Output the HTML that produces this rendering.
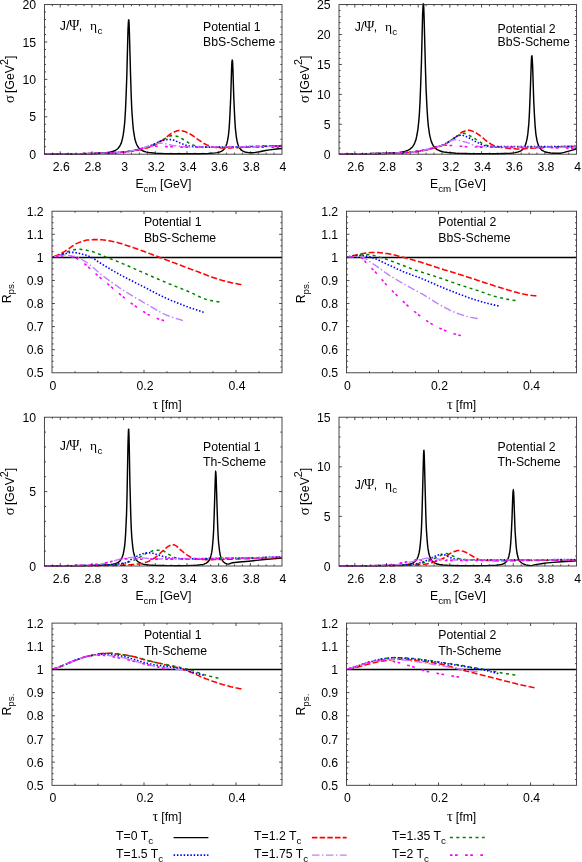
<!DOCTYPE html>
<html><head><meta charset="utf-8"><title>Spectral functions and correlator ratios</title>
<style>html,body{margin:0;padding:0;background:#fff}svg{display:block}text{font-family:"Liberation Sans", sans-serif;font-size:12.25px;fill:#000}.gr{font-family:"Liberation Serif", serif;font-size:13.5px}.sg{font-family:"Liberation Serif", serif;font-size:14.5px}.ps{font-family:"Liberation Serif", serif;font-size:14px}.sup{font-size:10.8px}.sub{font-size:9.8px}</style></head><body><div style="will-change:transform;width:582px;height:862px">
<svg width="582" height="862" viewBox="0 0 582 862">
<rect width="582" height="862" fill="#fff"/>
<defs>
<clipPath id="c1"><rect x="44.4" y="3.1" width="237.6" height="151.9"/></clipPath>
<clipPath id="c2"><rect x="339" y="3.1" width="237.6" height="151.9"/></clipPath>
<clipPath id="c3"><rect x="52" y="209.7" width="230" height="163.9"/></clipPath>
<clipPath id="c4"><rect x="346.5" y="209.7" width="230.1" height="163.9"/></clipPath>
<clipPath id="c5"><rect x="44.4" y="415.7" width="237.6" height="151.1"/></clipPath>
<clipPath id="c6"><rect x="339" y="415.7" width="237.6" height="151.1"/></clipPath>
<clipPath id="c7"><rect x="52" y="621.6" width="230" height="164.5"/></clipPath>
<clipPath id="c8"><rect x="346.5" y="621.6" width="230.1" height="164.5"/></clipPath>
</defs>
<path d="M44.4 154.1L71.6 153.9L86.5 153.6L92.9 153.5L97.9 153.3L102.1 153L105.2 152.8L108.1 152.4L110.6 152L112.5 151.5L114.4 150.8L115.4 150.3L116 150L117.3 149L117.9 148.5L118.5 147.8L119.5 146.5L120.4 144.9L121.1 143.4L121.4 142.5L122 140.5L122.6 137.9L123.3 134.4L123.9 129.9L124.6 123.7L124.9 119.8L125.5 109.7L126.1 95.6L126.8 76.4L128 29.5L128.4 22.1L128.7 19.4L129 22.1L129.3 29.5L130.6 76.4L131.2 95.6L131.8 109.7L132.2 115.2L132.8 123.7L133.4 129.9L134.1 134.5L134.7 137.9L135.3 140.5L135.6 141.6L136.3 143.5L136.6 144.2L137.2 145.5L137.9 146.6L138.5 147.5L139.1 148.2L140.1 149.2L141 149.9L142 150.4L143.2 151L144.5 151.5L145.8 151.9L147.4 152.2L149.3 152.6L151.2 152.8L155.6 153.2L161.9 153.5L170.2 153.7L180.3 153.8L192 153.8L201.5 153.7L208.2 153.5L211 153.3L213.3 153.1L215.2 152.9L217.1 152.6L218.6 152.3L219.9 151.9L221.2 151.3L222.1 150.8L223.1 150.1L223.7 149.5L224.7 148.4L225.3 147.4L225.6 146.8L226.2 145.3L226.9 143.4L227.5 140.7L227.8 139.1L228.5 134.7L228.8 131.9L229.1 128.5L229.4 124.4L229.7 119.4L230 113.4L230.7 97.7L231.6 68.9L231.9 62.2L232.3 59.7L232.6 62.2L232.9 68.9L233.8 97.7L234.5 113.4L234.8 119.4L235.1 124.4L235.4 128.5L236.1 134.8L236.4 137.1L237 140.7L237.3 142.2L238 144.4L238.6 146.1L239.2 147.4L239.5 147.9L240.2 148.8L241.1 149.9L242.1 150.6L242.7 151L243.4 151.4L244 151.6L244.9 152L246.5 152.3L248.4 152.6L250.6 152.7L252.9 152.7L255.7 152.4L259.5 151.8L265.5 150.5L269.6 149.9L276.3 149L279.1 148.7L282 148.5" fill="none" stroke="#000000" stroke-width="1.45" clip-path="url(#c1)" stroke-linejoin="miter" stroke-miterlimit="3"/>
<path d="M44.4 154.1L45.4 154L46.4 154L47.4 154L48.4 154L49.4 154L50.4 154L51.4 154L52.4 154L53.3 154L54.3 154L55.3 154L56.3 154L57.3 154L58.3 154L59.3 153.9L60.3 153.9L61.3 153.9L62.3 153.9L63.3 153.9L64.3 153.9L65.3 153.9L66.3 153.9L67.3 153.9L68.3 153.8L69.3 153.8L70.2 153.8L71.2 153.8L72.2 153.8L73.2 153.8L74.2 153.8L75.2 153.8L76.2 153.7L77.2 153.7L78.2 153.7L79.2 153.7L80.2 153.7L81.2 153.7L82.2 153.7L83.2 153.6L84.2 153.6L85.2 153.6L86.2 153.6L87.1 153.6L88.1 153.6L89.1 153.5L90.1 153.5L91.1 153.5L92.1 153.5L93.1 153.5L94.1 153.4L95.1 153.4L96.1 153.4L97.1 153.4L98.1 153.4L99.1 153.3L100.1 153.3L101.1 153.3L102.1 153.2L103.1 153.2L104 153.2L105 153.2L106 153.1L107 153.1L108 153.1L109 153L110 153L111 153L112 152.9L113 152.9L114 152.8L115 152.8L116 152.7L117 152.7L118 152.6L119 152.5L120 152.5L120.9 152.4L121.9 152.3L122.9 152.2L123.9 152.2L124.9 152.1L125.9 152L126.9 151.9L127.9 151.7L128.9 151.6L129.9 151.5L130.9 151.3L131.9 151.2L132.9 151L133.9 150.9L134.9 150.7L135.9 150.5L136.9 150.3L137.8 150.2L138.8 150L139.8 149.8L140.8 149.6L141.8 149.4L142.8 149.1L143.8 148.9L144.8 148.6L145.8 148.3L146.8 148L147.8 147.7L148.8 147.4L149.8 147.1L150.8 146.7L151.8 146.3L152.8 145.9L153.8 145.4L154.7 145L155.7 144.5L156.7 143.9L157.7 143.3L158.7 142.7L159.7 142.1L160.7 141.4L161.7 140.7L162.7 140L163.7 139.3L164.7 138.6L165.7 137.8L166.7 137L167.7 136.2L168.7 135.4L169.7 134.6L170.7 133.8L171.7 133.2L172.6 132.7L173.6 132.3L174.6 131.8L175.6 131.4L176.6 131.1L177.6 130.8L178.6 130.6L179.6 130.5L180.6 130.5L181.6 130.7L182.6 130.9L183.6 131.2L184.6 131.5L185.6 131.9L186.6 132.3L187.6 132.8L188.6 133.2L189.5 133.7L190.5 134.2L191.5 134.8L192.5 135.5L193.5 136.2L194.5 137L195.5 137.7L196.5 138.5L197.5 139.2L198.5 139.9L199.5 140.5L200.5 141.2L201.5 141.9L202.5 142.5L203.5 143.2L204.5 143.7L205.5 144.2L206.4 144.7L207.4 145.1L208.4 145.5L209.4 145.9L210.4 146.2L211.4 146.5L212.4 146.8L213.4 147L214.4 147.2L215.4 147.4L216.4 147.6L217.4 147.7L218.4 147.8L219.4 147.8L220.4 147.9L221.4 147.9L222.4 147.9L223.3 147.9L224.3 147.9L225.3 147.9L226.3 147.9L227.3 147.9L228.3 147.9L229.3 147.9L230.3 147.9L231.3 147.9L232.3 147.8L233.3 147.8L234.3 147.8L235.3 147.7L236.3 147.7L237.3 147.6L238.3 147.6L239.3 147.5L240.2 147.5L241.2 147.4L242.2 147.3L243.2 147.3L244.2 147.2L245.2 147.1L246.2 147.1L247.2 147L248.2 147L249.2 146.9L250.2 146.9L251.2 146.8L252.2 146.8L253.2 146.7L254.2 146.7L255.2 146.7L256.2 146.6L257.1 146.6L258.1 146.5L259.1 146.5L260.1 146.5L261.1 146.4L262.1 146.4L263.1 146.3L264.1 146.3L265.1 146.2L266.1 146.2L267.1 146.2L268.1 146.1L269.1 146.1L270.1 146L271.1 146L272.1 146L273.1 145.9L274 145.9L275 145.9L276 145.8L277 145.8L278 145.7L279 145.7L280 145.7L281 145.6L282 145.6" fill="none" stroke="#ff0000" stroke-width="1.55" stroke-dasharray="6 2.4" clip-path="url(#c1)" stroke-linejoin="round"/>
<path d="M44.4 154.1L45.4 154L46.4 154L47.4 154L48.4 154L49.4 154L50.4 154L51.4 154L52.4 154L53.3 154L54.3 154L55.3 154L56.3 154L57.3 154L58.3 154L59.3 154L60.3 153.9L61.3 153.9L62.3 153.9L63.3 153.9L64.3 153.9L65.3 153.9L66.3 153.9L67.3 153.9L68.3 153.9L69.3 153.8L70.2 153.8L71.2 153.8L72.2 153.8L73.2 153.8L74.2 153.8L75.2 153.8L76.2 153.7L77.2 153.7L78.2 153.7L79.2 153.7L80.2 153.7L81.2 153.7L82.2 153.7L83.2 153.6L84.2 153.6L85.2 153.6L86.2 153.6L87.1 153.6L88.1 153.6L89.1 153.5L90.1 153.5L91.1 153.5L92.1 153.5L93.1 153.4L94.1 153.4L95.1 153.4L96.1 153.4L97.1 153.3L98.1 153.3L99.1 153.3L100.1 153.3L101.1 153.2L102.1 153.2L103.1 153.2L104 153.1L105 153.1L106 153.1L107 153L108 153L109 153L110 152.9L111 152.9L112 152.8L113 152.8L114 152.7L115 152.6L116 152.6L117 152.5L118 152.4L119 152.4L120 152.3L120.9 152.2L121.9 152.1L122.9 152L123.9 151.9L124.9 151.8L125.9 151.7L126.9 151.6L127.9 151.4L128.9 151.3L129.9 151.1L130.9 151L131.9 150.8L132.9 150.6L133.9 150.4L134.9 150.3L135.9 150L136.9 149.8L137.8 149.6L138.8 149.4L139.8 149.2L140.8 148.9L141.8 148.6L142.8 148.3L143.8 148L144.8 147.6L145.8 147.3L146.8 146.9L147.8 146.6L148.8 146.2L149.8 145.9L150.8 145.5L151.8 145.1L152.8 144.8L153.8 144.4L154.7 144L155.7 143.5L156.7 143.1L157.7 142.5L158.7 142L159.7 141.5L160.7 140.9L161.7 140.4L162.7 139.9L163.7 139.4L164.7 138.9L165.7 138.3L166.7 137.7L167.7 137.2L168.7 136.6L169.7 136.2L170.7 135.8L171.7 135.7L172.6 135.7L173.6 135.7L174.6 135.8L175.6 136L176.6 136.2L177.6 136.4L178.6 136.7L179.6 137.2L180.6 137.8L181.6 138.5L182.6 139L183.6 139.6L184.6 140.2L185.6 140.8L186.6 141.5L187.6 142.1L188.6 142.8L189.5 143.3L190.5 143.9L191.5 144.3L192.5 144.7L193.5 145.1L194.5 145.4L195.5 145.7L196.5 146L197.5 146.2L198.5 146.4L199.5 146.6L200.5 146.7L201.5 146.9L202.5 147L203.5 147L204.5 147.1L205.5 147.1L206.4 147.1L207.4 147.2L208.4 147.2L209.4 147.2L210.4 147.2L211.4 147.2L212.4 147.2L213.4 147.2L214.4 147.2L215.4 147.2L216.4 147.2L217.4 147.2L218.4 147.2L219.4 147.2L220.4 147.2L221.4 147.2L222.4 147.2L223.3 147.1L224.3 147.1L225.3 147.1L226.3 147.1L227.3 147.1L228.3 147.1L229.3 147L230.3 147L231.3 147L232.3 147L233.3 146.9L234.3 146.9L235.3 146.9L236.3 146.9L237.3 146.9L238.3 146.8L239.3 146.8L240.2 146.8L241.2 146.8L242.2 146.7L243.2 146.7L244.2 146.7L245.2 146.7L246.2 146.7L247.2 146.6L248.2 146.6L249.2 146.6L250.2 146.6L251.2 146.6L252.2 146.5L253.2 146.5L254.2 146.5L255.2 146.5L256.2 146.5L257.1 146.4L258.1 146.4L259.1 146.4L260.1 146.4L261.1 146.4L262.1 146.4L263.1 146.3L264.1 146.3L265.1 146.3L266.1 146.3L267.1 146.3L268.1 146.2L269.1 146.2L270.1 146.2L271.1 146.2L272.1 146.2L273.1 146.1L274 146.1L275 146.1L276 146.1L277 146.1L278 146L279 146L280 146L281 146L282 146" fill="none" stroke="#008000" stroke-width="1.5" stroke-dasharray="3.0 3.4" clip-path="url(#c1)" stroke-linejoin="round"/>
<path d="M44.4 154.1L45.4 154L46.4 154L47.4 154L48.4 154L49.4 154L50.4 154L51.4 154L52.4 154L53.3 154L54.3 154L55.3 154L56.3 154L57.3 154L58.3 154L59.3 154L60.3 153.9L61.3 153.9L62.3 153.9L63.3 153.9L64.3 153.9L65.3 153.9L66.3 153.9L67.3 153.9L68.3 153.9L69.3 153.8L70.2 153.8L71.2 153.8L72.2 153.8L73.2 153.8L74.2 153.8L75.2 153.8L76.2 153.7L77.2 153.7L78.2 153.7L79.2 153.7L80.2 153.7L81.2 153.7L82.2 153.7L83.2 153.6L84.2 153.6L85.2 153.6L86.2 153.6L87.1 153.6L88.1 153.6L89.1 153.5L90.1 153.5L91.1 153.5L92.1 153.5L93.1 153.4L94.1 153.4L95.1 153.4L96.1 153.4L97.1 153.3L98.1 153.3L99.1 153.3L100.1 153.3L101.1 153.2L102.1 153.2L103.1 153.2L104 153.1L105 153.1L106 153.1L107 153L108 153L109 153L110 152.9L111 152.9L112 152.8L113 152.8L114 152.7L115 152.6L116 152.6L117 152.5L118 152.4L119 152.4L120 152.3L120.9 152.2L121.9 152.1L122.9 152L123.9 151.9L124.9 151.8L125.9 151.7L126.9 151.6L127.9 151.4L128.9 151.3L129.9 151.1L130.9 151L131.9 150.8L132.9 150.6L133.9 150.4L134.9 150.3L135.9 150L136.9 149.8L137.8 149.6L138.8 149.4L139.8 149.2L140.8 148.9L141.8 148.6L142.8 148.3L143.8 148L144.8 147.6L145.8 147.3L146.8 146.9L147.8 146.6L148.8 146.2L149.8 145.8L150.8 145.4L151.8 145L152.8 144.6L153.8 144.2L154.7 143.8L155.7 143.4L156.7 142.9L157.7 142.5L158.7 142L159.7 141.6L160.7 141.1L161.7 140.8L162.7 140.5L163.7 140.3L164.7 140L165.7 139.8L166.7 139.7L167.7 139.5L168.7 139.5L169.7 139.5L170.7 139.6L171.7 139.7L172.6 139.9L173.6 140.1L174.6 140.4L175.6 140.9L176.6 141.4L177.6 141.9L178.6 142.3L179.6 142.8L180.6 143.2L181.6 143.6L182.6 144L183.6 144.4L184.6 144.7L185.6 145.1L186.6 145.4L187.6 145.6L188.6 145.8L189.5 146L190.5 146.1L191.5 146.3L192.5 146.4L193.5 146.6L194.5 146.7L195.5 146.8L196.5 146.8L197.5 146.9L198.5 146.9L199.5 146.9L200.5 147L201.5 147L202.5 147L203.5 147.1L204.5 147.1L205.5 147.1L206.4 147.1L207.4 147.1L208.4 147.1L209.4 147.1L210.4 147.1L211.4 147.1L212.4 147.1L213.4 147.1L214.4 147.1L215.4 147.1L216.4 147L217.4 147L218.4 147L219.4 147L220.4 147L221.4 147L222.4 147L223.3 147L224.3 147L225.3 146.9L226.3 146.9L227.3 146.9L228.3 146.9L229.3 146.9L230.3 146.9L231.3 146.9L232.3 146.8L233.3 146.8L234.3 146.8L235.3 146.8L236.3 146.8L237.3 146.8L238.3 146.7L239.3 146.7L240.2 146.7L241.2 146.7L242.2 146.7L243.2 146.7L244.2 146.7L245.2 146.6L246.2 146.6L247.2 146.6L248.2 146.6L249.2 146.6L250.2 146.6L251.2 146.6L252.2 146.5L253.2 146.5L254.2 146.5L255.2 146.5L256.2 146.5L257.1 146.5L258.1 146.5L259.1 146.5L260.1 146.4L261.1 146.4L262.1 146.4L263.1 146.4L264.1 146.4L265.1 146.4L266.1 146.4L267.1 146.3L268.1 146.3L269.1 146.3L270.1 146.3L271.1 146.3L272.1 146.3L273.1 146.3L274 146.2L275 146.2L276 146.2L277 146.2L278 146.2L279 146.2L280 146.2L281 146.1L282 146.1" fill="none" stroke="#0000ff" stroke-width="1.6" stroke-dasharray="1.5 1.85" clip-path="url(#c1)" stroke-linejoin="round"/>
<path d="M44.4 154.1L45.4 154L46.4 154L47.4 154L48.4 154L49.4 154L50.4 154L51.4 154L52.4 154L53.3 154L54.3 154L55.3 154L56.3 154L57.3 154L58.3 154L59.3 154L60.3 153.9L61.3 153.9L62.3 153.9L63.3 153.9L64.3 153.9L65.3 153.9L66.3 153.9L67.3 153.9L68.3 153.9L69.3 153.8L70.2 153.8L71.2 153.8L72.2 153.8L73.2 153.8L74.2 153.8L75.2 153.8L76.2 153.7L77.2 153.7L78.2 153.7L79.2 153.7L80.2 153.7L81.2 153.7L82.2 153.7L83.2 153.6L84.2 153.6L85.2 153.6L86.2 153.6L87.1 153.6L88.1 153.6L89.1 153.5L90.1 153.5L91.1 153.5L92.1 153.5L93.1 153.4L94.1 153.4L95.1 153.4L96.1 153.4L97.1 153.3L98.1 153.3L99.1 153.3L100.1 153.3L101.1 153.2L102.1 153.2L103.1 153.2L104 153.1L105 153.1L106 153.1L107 153L108 153L109 153L110 152.9L111 152.9L112 152.8L113 152.8L114 152.7L115 152.6L116 152.6L117 152.5L118 152.4L119 152.4L120 152.3L120.9 152.2L121.9 152.1L122.9 152L123.9 151.9L124.9 151.8L125.9 151.7L126.9 151.6L127.9 151.4L128.9 151.3L129.9 151.1L130.9 151L131.9 150.8L132.9 150.6L133.9 150.4L134.9 150.3L135.9 150L136.9 149.8L137.8 149.6L138.8 149.4L139.8 149.2L140.8 148.9L141.8 148.6L142.8 148.3L143.8 148L144.8 147.6L145.8 147.3L146.8 146.9L147.8 146.6L148.8 146.2L149.8 145.8L150.8 145.4L151.8 145L152.8 144.6L153.8 144.2L154.7 144L155.7 143.8L156.7 143.6L157.7 143.5L158.7 143.3L159.7 143.2L160.7 143.2L161.7 143.2L162.7 143.3L163.7 143.5L164.7 143.7L165.7 143.9L166.7 144.1L167.7 144.3L168.7 144.5L169.7 144.7L170.7 145L171.7 145.2L172.6 145.4L173.6 145.6L174.6 145.7L175.6 145.8L176.6 145.9L177.6 146L178.6 146.1L179.6 146.2L180.6 146.3L181.6 146.4L182.6 146.4L183.6 146.5L184.6 146.6L185.6 146.6L186.6 146.7L187.6 146.7L188.6 146.8L189.5 146.9L190.5 146.9L191.5 147L192.5 147L193.5 147L194.5 147L195.5 147L196.5 147L197.5 147L198.5 147L199.5 147L200.5 147L201.5 147L202.5 147L203.5 147L204.5 147L205.5 147L206.4 147L207.4 147L208.4 147L209.4 147L210.4 147L211.4 147L212.4 147L213.4 147L214.4 147L215.4 147L216.4 147L217.4 147L218.4 146.9L219.4 146.9L220.4 146.9L221.4 146.9L222.4 146.9L223.3 146.9L224.3 146.9L225.3 146.9L226.3 146.9L227.3 146.9L228.3 146.9L229.3 146.9L230.3 146.9L231.3 146.9L232.3 146.9L233.3 146.9L234.3 146.8L235.3 146.8L236.3 146.8L237.3 146.8L238.3 146.8L239.3 146.8L240.2 146.8L241.2 146.8L242.2 146.8L243.2 146.8L244.2 146.8L245.2 146.8L246.2 146.8L247.2 146.7L248.2 146.7L249.2 146.7L250.2 146.7L251.2 146.7L252.2 146.7L253.2 146.7L254.2 146.7L255.2 146.7L256.2 146.7L257.1 146.7L258.1 146.6L259.1 146.6L260.1 146.6L261.1 146.6L262.1 146.6L263.1 146.6L264.1 146.6L265.1 146.6L266.1 146.6L267.1 146.5L268.1 146.5L269.1 146.5L270.1 146.5L271.1 146.5L272.1 146.5L273.1 146.5L274 146.5L275 146.4L276 146.4L277 146.4L278 146.4L279 146.4L280 146.4L281 146.4L282 146.3" fill="none" stroke="#c080ff" stroke-width="1.45" stroke-dasharray="7.6 2.4 1.5 2.5" clip-path="url(#c1)" stroke-linejoin="round"/>
<path d="M44.4 154.1L45.4 154L46.4 154L47.4 154L48.4 154L49.4 154L50.4 154L51.4 154L52.4 154L53.3 154L54.3 154L55.3 154L56.3 154L57.3 154L58.3 154L59.3 154L60.3 153.9L61.3 153.9L62.3 153.9L63.3 153.9L64.3 153.9L65.3 153.9L66.3 153.9L67.3 153.9L68.3 153.9L69.3 153.8L70.2 153.8L71.2 153.8L72.2 153.8L73.2 153.8L74.2 153.8L75.2 153.8L76.2 153.7L77.2 153.7L78.2 153.7L79.2 153.7L80.2 153.7L81.2 153.7L82.2 153.7L83.2 153.6L84.2 153.6L85.2 153.6L86.2 153.6L87.1 153.6L88.1 153.6L89.1 153.5L90.1 153.5L91.1 153.5L92.1 153.5L93.1 153.4L94.1 153.4L95.1 153.4L96.1 153.4L97.1 153.3L98.1 153.3L99.1 153.3L100.1 153.3L101.1 153.2L102.1 153.2L103.1 153.2L104 153.1L105 153.1L106 153.1L107 153L108 153L109 153L110 152.9L111 152.9L112 152.8L113 152.8L114 152.7L115 152.6L116 152.6L117 152.5L118 152.4L119 152.4L120 152.3L120.9 152.2L121.9 152.1L122.9 152L123.9 151.9L124.9 151.8L125.9 151.7L126.9 151.6L127.9 151.5L128.9 151.3L129.9 151.2L130.9 151L131.9 150.8L132.9 150.7L133.9 150.5L134.9 150.3L135.9 150.1L136.9 149.9L137.8 149.6L138.8 149.4L139.8 149.2L140.8 148.8L141.8 148.4L142.8 148L143.8 147.6L144.8 147.2L145.8 146.9L146.8 146.7L147.8 146.4L148.8 146.2L149.8 146L150.8 146L151.8 146L152.8 146L153.8 146.1L154.7 146.1L155.7 146.1L156.7 146.2L157.7 146.2L158.7 146.3L159.7 146.3L160.7 146.4L161.7 146.4L162.7 146.5L163.7 146.5L164.7 146.6L165.7 146.6L166.7 146.6L167.7 146.7L168.7 146.7L169.7 146.7L170.7 146.8L171.7 146.8L172.6 146.8L173.6 146.8L174.6 146.9L175.6 146.9L176.6 147L177.6 147L178.6 147L179.6 147.1L180.6 147.1L181.6 147.1L182.6 147.2L183.6 147.2L184.6 147.2L185.6 147.2L186.6 147.2L187.6 147.2L188.6 147.2L189.5 147.2L190.5 147.2L191.5 147.2L192.5 147.2L193.5 147.2L194.5 147.2L195.5 147.2L196.5 147.2L197.5 147.2L198.5 147.2L199.5 147.2L200.5 147.2L201.5 147.2L202.5 147.2L203.5 147.2L204.5 147.2L205.5 147.2L206.4 147.2L207.4 147.2L208.4 147.2L209.4 147.2L210.4 147.2L211.4 147.2L212.4 147.2L213.4 147.2L214.4 147.2L215.4 147.2L216.4 147.2L217.4 147.2L218.4 147.2L219.4 147.2L220.4 147.2L221.4 147.2L222.4 147.2L223.3 147.2L224.3 147.2L225.3 147.2L226.3 147.2L227.3 147.2L228.3 147.2L229.3 147.2L230.3 147.2L231.3 147.2L232.3 147.2L233.3 147.2L234.3 147.2L235.3 147.2L236.3 147.2L237.3 147.2L238.3 147.2L239.3 147.2L240.2 147.2L241.2 147.2L242.2 147.2L243.2 147.2L244.2 147.2L245.2 147.2L246.2 147.2L247.2 147.2L248.2 147.2L249.2 147.2L250.2 147.2L251.2 147.2L252.2 147.2L253.2 147.2L254.2 147.2L255.2 147.2L256.2 147.2L257.1 147.2L258.1 147.2L259.1 147.2L260.1 147.2L261.1 147.2L262.1 147.2L263.1 147.2L264.1 147.2L265.1 147.2L266.1 147.2L267.1 147.2L268.1 147.2L269.1 147.2L270.1 147.2L271.1 147.2L272.1 147.2L273.1 147.2L274 147.1L275 147.1L276 147.1L277 147.1L278 147.1L279 147.1L280 147.1L281 147.1L282 147.1" fill="none" stroke="#ff00ff" stroke-width="1.6" stroke-dasharray="2.7 2.4 2.7 7.4" clip-path="url(#c1)" stroke-linejoin="round"/>
<path d="M339 154.1L364.3 153.8L379.6 153.5L386.2 153.3L391.6 153L395.7 152.7L399.2 152.4L402 152L404.6 151.4L406.8 150.7L407.7 150.4L408.7 149.9L409.6 149.4L410.3 148.9L411.5 147.8L412.2 147.2L412.8 146.4L413.8 144.9L414.7 143L415.3 141.3L415.7 140.4L416.3 138.1L416.6 136.7L417.2 133.5L417.9 129.3L418.5 123.8L419.2 116.4L419.5 111.8L420.1 100.1L420.7 84.3L421.4 63.5L422.6 14.9L423 7L423.3 3.4L423.3 3.3L423.6 4.9L423.9 11.3L424.2 21.3L425.5 70.3L426.1 89.6L426.8 104L427.1 109.7L427.7 118.9L428.3 125.6L429 130.7L429.6 134.6L429.9 136.2L430.6 138.9L430.9 140L431.5 141.9L432.5 144.1L433.1 145.3L433.7 146.3L434.4 147.1L435.3 148.1L436.3 148.9L437.2 149.6L438.5 150.2L439.7 150.8L441 151.2L442.6 151.7L444.2 152L446.1 152.3L448.3 152.6L450.5 152.8L455.9 153.2L463.2 153.5L472.1 153.7L484.7 153.8L496.1 153.7L504.7 153.5L507.9 153.4L510.7 153.2L513.2 152.9L515.1 152.6L516.7 152.3L518.3 151.9L519.6 151.4L520.8 150.8L521.8 150.1L522.7 149.3L523.7 148.2L524.3 147.3L524.6 146.7L525.3 145.3L525.9 143.6L526.5 141.2L527.2 138.1L527.8 133.9L528.1 131.1L528.8 123.9L529.4 113.6L530 99.1L531.3 62.3L531.6 56.7L531.9 55.3L531.9 55.3L532.2 58.5L532.6 65.4L533.8 102.4L534.5 116L535.1 125.6L535.7 132.3L536 134.8L536.7 138.8L537 140.4L537.6 142.9L538.3 144.9L538.9 146.3L539.2 146.9L539.9 148L540.8 149.1L541.4 149.8L542.1 150.3L542.7 150.7L543.7 151.2L544.6 151.6L545.6 152L547.8 152.5L550.6 153L553.8 153.3L556.3 153.3L559.2 153.3L560.4 153.2L562 152.9L564.2 152.4L570.6 150.6L573.4 149.8L576.6 148.7" fill="none" stroke="#000000" stroke-width="1.45" clip-path="url(#c2)" stroke-linejoin="miter" stroke-miterlimit="3"/>
<path d="M339 154L340 154L341 154L342 154L343 154L344 154L345 154L346 154L347 154L347.9 154L348.9 154L349.9 154L350.9 154L351.9 154L352.9 153.9L353.9 153.9L354.9 153.9L355.9 153.9L356.9 153.9L357.9 153.9L358.9 153.9L359.9 153.9L360.9 153.9L361.9 153.8L362.9 153.8L363.9 153.8L364.8 153.8L365.8 153.8L366.8 153.8L367.8 153.8L368.8 153.7L369.8 153.7L370.8 153.7L371.8 153.7L372.8 153.7L373.8 153.7L374.8 153.7L375.8 153.6L376.8 153.6L377.8 153.6L378.8 153.6L379.8 153.6L380.8 153.5L381.7 153.5L382.7 153.5L383.7 153.5L384.7 153.5L385.7 153.4L386.7 153.4L387.7 153.4L388.7 153.4L389.7 153.3L390.7 153.3L391.7 153.3L392.7 153.2L393.7 153.2L394.7 153.2L395.7 153.1L396.7 153.1L397.7 153.1L398.6 153L399.6 153L400.6 153L401.6 152.9L402.6 152.9L403.6 152.8L404.6 152.8L405.6 152.7L406.6 152.6L407.6 152.6L408.6 152.5L409.6 152.4L410.6 152.3L411.6 152.2L412.6 152.1L413.6 152L414.6 151.9L415.5 151.8L416.5 151.7L417.5 151.6L418.5 151.5L419.5 151.3L420.5 151.2L421.5 151L422.5 150.8L423.5 150.6L424.5 150.4L425.5 150.2L426.5 149.9L427.5 149.7L428.5 149.5L429.5 149.3L430.5 149L431.5 148.8L432.4 148.5L433.4 148.2L434.4 148L435.4 147.7L436.4 147.4L437.4 147.1L438.4 146.8L439.4 146.5L440.4 146.2L441.4 145.8L442.4 145.4L443.4 145L444.4 144.5L445.4 144L446.4 143.4L447.4 142.8L448.4 142.2L449.3 141.5L450.3 140.9L451.3 140.2L452.3 139.6L453.3 138.9L454.3 138.2L455.3 137.5L456.3 136.7L457.3 136L458.3 135.3L459.3 134.4L460.3 133.6L461.3 132.7L462.3 132L463.3 131.5L464.3 131.2L465.3 130.9L466.3 130.6L467.2 130.4L468.2 130.3L469.2 130.3L470.2 130.4L471.2 130.7L472.2 131.1L473.2 131.5L474.2 132L475.2 132.5L476.2 133L477.2 133.6L478.2 134.3L479.2 135L480.2 135.8L481.2 136.6L482.2 137.4L483.2 138.1L484.1 139L485.1 139.8L486.1 140.7L487.1 141.5L488.1 142.2L489.1 142.9L490.1 143.5L491.1 144.1L492.1 144.6L493.1 145.2L494.1 145.6L495.1 146L496.1 146.3L497.1 146.6L498.1 146.8L499.1 147L500.1 147.2L501 147.4L502 147.5L503 147.7L504 147.8L505 148L506 148.1L507 148.2L508 148.3L509 148.4L510 148.5L511 148.6L512 148.7L513 148.7L514 148.8L515 148.8L516 148.9L517 148.9L517.9 148.9L518.9 148.9L519.9 148.9L520.9 148.9L521.9 148.8L522.9 148.8L523.9 148.7L524.9 148.6L525.9 148.6L526.9 148.5L527.9 148.4L528.9 148.3L529.9 148.3L530.9 148.2L531.9 148.1L532.9 148.1L533.9 148L534.8 147.9L535.8 147.9L536.8 147.8L537.8 147.7L538.8 147.7L539.8 147.6L540.8 147.5L541.8 147.5L542.8 147.4L543.8 147.4L544.8 147.3L545.8 147.3L546.8 147.2L547.8 147.2L548.8 147.2L549.8 147.1L550.8 147.1L551.7 147L552.7 147L553.7 147L554.7 146.9L555.7 146.9L556.7 146.9L557.7 146.8L558.7 146.8L559.7 146.8L560.7 146.7L561.7 146.7L562.7 146.7L563.7 146.6L564.7 146.6L565.7 146.6L566.7 146.6L567.7 146.5L568.6 146.5L569.6 146.5L570.6 146.5L571.6 146.5L572.6 146.5L573.6 146.4L574.6 146.4L575.6 146.4L576.6 146.4" fill="none" stroke="#ff0000" stroke-width="1.55" stroke-dasharray="6 2.4" clip-path="url(#c2)" stroke-linejoin="round"/>
<path d="M339 154L340 154L341 154L342 154L343 154L344 154L345 154L346 154L347 154L347.9 154L348.9 154L349.9 154L350.9 153.9L351.9 153.9L352.9 153.9L353.9 153.9L354.9 153.9L355.9 153.9L356.9 153.9L357.9 153.9L358.9 153.8L359.9 153.8L360.9 153.8L361.9 153.8L362.9 153.8L363.9 153.8L364.8 153.8L365.8 153.7L366.8 153.7L367.8 153.7L368.8 153.7L369.8 153.7L370.8 153.7L371.8 153.6L372.8 153.6L373.8 153.6L374.8 153.6L375.8 153.6L376.8 153.5L377.8 153.5L378.8 153.5L379.8 153.5L380.8 153.5L381.7 153.4L382.7 153.4L383.7 153.4L384.7 153.4L385.7 153.3L386.7 153.3L387.7 153.3L388.7 153.2L389.7 153.2L390.7 153.2L391.7 153.1L392.7 153.1L393.7 153.1L394.7 153L395.7 153L396.7 153L397.7 152.9L398.6 152.9L399.6 152.8L400.6 152.8L401.6 152.7L402.6 152.7L403.6 152.6L404.6 152.6L405.6 152.5L406.6 152.4L407.6 152.4L408.6 152.3L409.6 152.2L410.6 152.1L411.6 152L412.6 151.9L413.6 151.8L414.6 151.7L415.5 151.5L416.5 151.4L417.5 151.3L418.5 151.2L419.5 151L420.5 150.8L421.5 150.6L422.5 150.4L423.5 150.2L424.5 150L425.5 149.8L426.5 149.6L427.5 149.3L428.5 149.1L429.5 148.8L430.5 148.6L431.5 148.3L432.4 148.1L433.4 147.8L434.4 147.5L435.4 147.3L436.4 147L437.4 146.7L438.4 146.5L439.4 146.2L440.4 145.8L441.4 145.5L442.4 145.1L443.4 144.7L444.4 144.2L445.4 143.7L446.4 143.1L447.4 142.6L448.4 142L449.3 141.3L450.3 140.7L451.3 140.1L452.3 139.4L453.3 138.7L454.3 137.9L455.3 137.2L456.3 136.5L457.3 136L458.3 135.4L459.3 134.9L460.3 134.3L461.3 133.8L462.3 133.5L463.3 133.3L464.3 133.3L465.3 133.7L466.3 134.1L467.2 134.5L468.2 134.9L469.2 135.4L470.2 136L471.2 136.5L472.2 137L473.2 137.6L474.2 138.2L475.2 138.8L476.2 139.5L477.2 140.2L478.2 140.9L479.2 141.5L480.2 142.2L481.2 142.9L482.2 143.5L483.2 144.1L484.1 144.6L485.1 145L486.1 145.3L487.1 145.5L488.1 145.8L489.1 146L490.1 146.2L491.1 146.3L492.1 146.4L493.1 146.5L494.1 146.6L495.1 146.7L496.1 146.8L497.1 146.9L498.1 147L499.1 147L500.1 147L501 147L502 147L503 147L504 147L505 147L506 147L507 147L508 147L509 147L510 147L511 147L512 147L513 147L514 147L515 147L516 147L517 147L517.9 147L518.9 147L519.9 147L520.9 147L521.9 147L522.9 147L523.9 147L524.9 147L525.9 147L526.9 146.9L527.9 146.9L528.9 146.9L529.9 146.9L530.9 146.9L531.9 146.9L532.9 146.9L533.9 146.9L534.8 146.9L535.8 146.9L536.8 146.9L537.8 146.9L538.8 146.9L539.8 146.9L540.8 146.9L541.8 146.9L542.8 146.9L543.8 146.9L544.8 146.8L545.8 146.8L546.8 146.8L547.8 146.8L548.8 146.8L549.8 146.8L550.8 146.8L551.7 146.8L552.7 146.8L553.7 146.8L554.7 146.7L555.7 146.7L556.7 146.7L557.7 146.7L558.7 146.7L559.7 146.7L560.7 146.7L561.7 146.7L562.7 146.6L563.7 146.6L564.7 146.6L565.7 146.6L566.7 146.6L567.7 146.6L568.6 146.5L569.6 146.5L570.6 146.5L571.6 146.5L572.6 146.5L573.6 146.5L574.6 146.5L575.6 146.4L576.6 146.4" fill="none" stroke="#008000" stroke-width="1.5" stroke-dasharray="3.0 3.4" clip-path="url(#c2)" stroke-linejoin="round"/>
<path d="M339 154L340 154L341 154L342 154L343 154L344 154L345 154L346 154L347 154L347.9 154L348.9 154L349.9 154L350.9 153.9L351.9 153.9L352.9 153.9L353.9 153.9L354.9 153.9L355.9 153.9L356.9 153.9L357.9 153.9L358.9 153.8L359.9 153.8L360.9 153.8L361.9 153.8L362.9 153.8L363.9 153.8L364.8 153.8L365.8 153.7L366.8 153.7L367.8 153.7L368.8 153.7L369.8 153.7L370.8 153.7L371.8 153.6L372.8 153.6L373.8 153.6L374.8 153.6L375.8 153.6L376.8 153.5L377.8 153.5L378.8 153.5L379.8 153.5L380.8 153.5L381.7 153.4L382.7 153.4L383.7 153.4L384.7 153.4L385.7 153.3L386.7 153.3L387.7 153.3L388.7 153.2L389.7 153.2L390.7 153.2L391.7 153.1L392.7 153.1L393.7 153.1L394.7 153L395.7 153L396.7 153L397.7 152.9L398.6 152.9L399.6 152.8L400.6 152.8L401.6 152.7L402.6 152.7L403.6 152.6L404.6 152.6L405.6 152.5L406.6 152.4L407.6 152.4L408.6 152.3L409.6 152.2L410.6 152.1L411.6 152L412.6 151.9L413.6 151.8L414.6 151.7L415.5 151.5L416.5 151.4L417.5 151.3L418.5 151.2L419.5 151L420.5 150.8L421.5 150.6L422.5 150.4L423.5 150.2L424.5 150L425.5 149.8L426.5 149.6L427.5 149.3L428.5 149.1L429.5 148.8L430.5 148.6L431.5 148.3L432.4 148.1L433.4 147.8L434.4 147.5L435.4 147.3L436.4 147L437.4 146.7L438.4 146.5L439.4 146.2L440.4 145.8L441.4 145.5L442.4 145.1L443.4 144.7L444.4 144.2L445.4 143.7L446.4 143.1L447.4 142.5L448.4 141.9L449.3 141.3L450.3 140.7L451.3 140.1L452.3 139.4L453.3 138.6L454.3 137.9L455.3 137.1L456.3 136.6L457.3 136.1L458.3 135.8L459.3 135.4L460.3 135.2L461.3 135.1L462.3 135.2L463.3 135.5L464.3 135.8L465.3 136.2L466.3 136.6L467.2 137L468.2 137.5L469.2 138L470.2 138.5L471.2 139.1L472.2 139.6L473.2 140.2L474.2 140.8L475.2 141.4L476.2 141.9L477.2 142.4L478.2 142.9L479.2 143.4L480.2 143.9L481.2 144.4L482.2 144.8L483.2 145.2L484.1 145.5L485.1 145.7L486.1 145.9L487.1 146L488.1 146.1L489.1 146.2L490.1 146.3L491.1 146.4L492.1 146.4L493.1 146.4L494.1 146.5L495.1 146.5L496.1 146.5L497.1 146.5L498.1 146.5L499.1 146.5L500.1 146.5L501 146.5L502 146.5L503 146.5L504 146.5L505 146.5L506 146.5L507 146.5L508 146.5L509 146.5L510 146.5L511 146.5L512 146.5L513 146.5L514 146.5L515 146.5L516 146.5L517 146.5L517.9 146.5L518.9 146.5L519.9 146.5L520.9 146.5L521.9 146.5L522.9 146.5L523.9 146.5L524.9 146.5L525.9 146.5L526.9 146.5L527.9 146.5L528.9 146.5L529.9 146.5L530.9 146.5L531.9 146.5L532.9 146.5L533.9 146.5L534.8 146.5L535.8 146.5L536.8 146.5L537.8 146.5L538.8 146.5L539.8 146.5L540.8 146.5L541.8 146.5L542.8 146.5L543.8 146.5L544.8 146.5L545.8 146.5L546.8 146.5L547.8 146.5L548.8 146.5L549.8 146.5L550.8 146.5L551.7 146.5L552.7 146.5L553.7 146.5L554.7 146.5L555.7 146.5L556.7 146.5L557.7 146.5L558.7 146.5L559.7 146.5L560.7 146.5L561.7 146.5L562.7 146.5L563.7 146.5L564.7 146.5L565.7 146.5L566.7 146.5L567.7 146.5L568.6 146.5L569.6 146.5L570.6 146.4L571.6 146.4L572.6 146.4L573.6 146.4L574.6 146.4L575.6 146.4L576.6 146.4" fill="none" stroke="#0000ff" stroke-width="1.6" stroke-dasharray="1.5 1.85" clip-path="url(#c2)" stroke-linejoin="round"/>
<path d="M339 154L340 154L341 154L342 154L343 154L344 154L345 154L346 154L347 154L347.9 154L348.9 154L349.9 154L350.9 153.9L351.9 153.9L352.9 153.9L353.9 153.9L354.9 153.9L355.9 153.9L356.9 153.9L357.9 153.9L358.9 153.8L359.9 153.8L360.9 153.8L361.9 153.8L362.9 153.8L363.9 153.8L364.8 153.8L365.8 153.7L366.8 153.7L367.8 153.7L368.8 153.7L369.8 153.7L370.8 153.7L371.8 153.6L372.8 153.6L373.8 153.6L374.8 153.6L375.8 153.6L376.8 153.5L377.8 153.5L378.8 153.5L379.8 153.5L380.8 153.5L381.7 153.4L382.7 153.4L383.7 153.4L384.7 153.4L385.7 153.3L386.7 153.3L387.7 153.3L388.7 153.2L389.7 153.2L390.7 153.2L391.7 153.1L392.7 153.1L393.7 153.1L394.7 153L395.7 153L396.7 153L397.7 152.9L398.6 152.9L399.6 152.8L400.6 152.8L401.6 152.7L402.6 152.7L403.6 152.6L404.6 152.6L405.6 152.5L406.6 152.4L407.6 152.4L408.6 152.3L409.6 152.2L410.6 152.1L411.6 152L412.6 151.9L413.6 151.8L414.6 151.7L415.5 151.5L416.5 151.4L417.5 151.3L418.5 151.2L419.5 151L420.5 150.8L421.5 150.6L422.5 150.4L423.5 150.2L424.5 150L425.5 149.8L426.5 149.6L427.5 149.3L428.5 149.1L429.5 148.8L430.5 148.6L431.5 148.3L432.4 148.1L433.4 147.8L434.4 147.5L435.4 147.3L436.4 147L437.4 146.7L438.4 146.4L439.4 146.1L440.4 145.8L441.4 145.5L442.4 145.1L443.4 144.6L444.4 144.1L445.4 143.5L446.4 142.8L447.4 142.2L448.4 141.6L449.3 141.1L450.3 140.7L451.3 140.5L452.3 140.2L453.3 140L454.3 139.8L455.3 139.7L456.3 139.6L457.3 139.6L458.3 139.9L459.3 140.3L460.3 140.7L461.3 141L462.3 141.3L463.3 141.6L464.3 141.8L465.3 142.1L466.3 142.3L467.2 142.6L468.2 142.9L469.2 143.2L470.2 143.7L471.2 144.1L472.2 144.6L473.2 145L474.2 145.3L475.2 145.6L476.2 145.9L477.2 146.1L478.2 146.3L479.2 146.5L480.2 146.6L481.2 146.7L482.2 146.8L483.2 146.9L484.1 147L485.1 147L486.1 147.1L487.1 147.1L488.1 147.1L489.1 147.2L490.1 147.2L491.1 147.2L492.1 147.3L493.1 147.3L494.1 147.3L495.1 147.3L496.1 147.3L497.1 147.3L498.1 147.3L499.1 147.3L500.1 147.3L501 147.3L502 147.3L503 147.3L504 147.3L505 147.3L506 147.3L507 147.3L508 147.3L509 147.3L510 147.3L511 147.3L512 147.3L513 147.3L514 147.3L515 147.3L516 147.3L517 147.2L517.9 147.2L518.9 147.2L519.9 147.2L520.9 147.2L521.9 147.2L522.9 147.2L523.9 147.2L524.9 147.2L525.9 147.2L526.9 147.2L527.9 147.2L528.9 147.2L529.9 147.2L530.9 147.2L531.9 147.2L532.9 147.2L533.9 147.2L534.8 147.1L535.8 147.1L536.8 147.1L537.8 147.1L538.8 147.1L539.8 147.1L540.8 147.1L541.8 147.1L542.8 147.1L543.8 147.1L544.8 147.1L545.8 147.1L546.8 147.1L547.8 147.1L548.8 147.1L549.8 147.1L550.8 147.1L551.7 147.1L552.7 147.1L553.7 147.1L554.7 147.1L555.7 147.1L556.7 147.1L557.7 147.1L558.7 147.1L559.7 147.1L560.7 147.1L561.7 147.1L562.7 147.1L563.7 147.1L564.7 147L565.7 147L566.7 147L567.7 147L568.6 147L569.6 147L570.6 147L571.6 147L572.6 147L573.6 147L574.6 147L575.6 147L576.6 147" fill="none" stroke="#c080ff" stroke-width="1.45" stroke-dasharray="7.6 2.4 1.5 2.5" clip-path="url(#c2)" stroke-linejoin="round"/>
<path d="M339 154L340 154L341 154L342 154L343 154L344 154L345 154L346 154L347 154L347.9 154L348.9 154L349.9 154L350.9 153.9L351.9 153.9L352.9 153.9L353.9 153.9L354.9 153.9L355.9 153.9L356.9 153.9L357.9 153.9L358.9 153.8L359.9 153.8L360.9 153.8L361.9 153.8L362.9 153.8L363.9 153.8L364.8 153.8L365.8 153.7L366.8 153.7L367.8 153.7L368.8 153.7L369.8 153.7L370.8 153.7L371.8 153.6L372.8 153.6L373.8 153.6L374.8 153.6L375.8 153.6L376.8 153.5L377.8 153.5L378.8 153.5L379.8 153.5L380.8 153.5L381.7 153.4L382.7 153.4L383.7 153.4L384.7 153.4L385.7 153.3L386.7 153.3L387.7 153.3L388.7 153.2L389.7 153.2L390.7 153.2L391.7 153.1L392.7 153.1L393.7 153.1L394.7 153L395.7 153L396.7 153L397.7 152.9L398.6 152.9L399.6 152.8L400.6 152.8L401.6 152.7L402.6 152.7L403.6 152.6L404.6 152.6L405.6 152.5L406.6 152.4L407.6 152.4L408.6 152.3L409.6 152.2L410.6 152.1L411.6 152L412.6 151.9L413.6 151.8L414.6 151.7L415.5 151.5L416.5 151.4L417.5 151.3L418.5 151.2L419.5 151L420.5 150.8L421.5 150.6L422.5 150.4L423.5 150.2L424.5 150L425.5 149.8L426.5 149.6L427.5 149.3L428.5 149.1L429.5 148.8L430.5 148.6L431.5 148.3L432.4 148.1L433.4 147.8L434.4 147.5L435.4 147.1L436.4 146.8L437.4 146.4L438.4 146L439.4 145.7L440.4 145.4L441.4 145.2L442.4 145.2L443.4 145.2L444.4 145.2L445.4 145.2L446.4 145.3L447.4 145.3L448.4 145.3L449.3 145.4L450.3 145.5L451.3 145.5L452.3 145.6L453.3 145.6L454.3 145.7L455.3 145.8L456.3 145.9L457.3 146L458.3 146.1L459.3 146.2L460.3 146.2L461.3 146.3L462.3 146.4L463.3 146.5L464.3 146.5L465.3 146.6L466.3 146.7L467.2 146.7L468.2 146.8L469.2 146.8L470.2 146.9L471.2 146.9L472.2 146.9L473.2 146.9L474.2 147L475.2 147L476.2 147L477.2 147L478.2 147.1L479.2 147.1L480.2 147.1L481.2 147.1L482.2 147.1L483.2 147.1L484.1 147.2L485.1 147.2L486.1 147.2L487.1 147.2L488.1 147.2L489.1 147.2L490.1 147.2L491.1 147.3L492.1 147.3L493.1 147.3L494.1 147.3L495.1 147.3L496.1 147.3L497.1 147.3L498.1 147.3L499.1 147.3L500.1 147.3L501 147.4L502 147.4L503 147.4L504 147.4L505 147.4L506 147.4L507 147.4L508 147.4L509 147.4L510 147.4L511 147.4L512 147.4L513 147.4L514 147.5L515 147.5L516 147.5L517 147.5L517.9 147.5L518.9 147.5L519.9 147.5L520.9 147.5L521.9 147.5L522.9 147.5L523.9 147.5L524.9 147.5L525.9 147.5L526.9 147.5L527.9 147.5L528.9 147.5L529.9 147.6L530.9 147.6L531.9 147.6L532.9 147.6L533.9 147.6L534.8 147.6L535.8 147.6L536.8 147.6L537.8 147.6L538.8 147.6L539.8 147.6L540.8 147.7L541.8 147.7L542.8 147.7L543.8 147.7L544.8 147.7L545.8 147.7L546.8 147.7L547.8 147.7L548.8 147.8L549.8 147.8L550.8 147.8L551.7 147.8L552.7 147.8L553.7 147.8L554.7 147.8L555.7 147.9L556.7 147.9L557.7 147.9L558.7 147.9L559.7 147.9L560.7 147.9L561.7 148L562.7 148L563.7 148L564.7 148L565.7 148L566.7 148L567.7 148.1L568.6 148.1L569.6 148.1L570.6 148.1L571.6 148.1L572.6 148.1L573.6 148.2L574.6 148.2L575.6 148.2L576.6 148.2" fill="none" stroke="#ff00ff" stroke-width="1.6" stroke-dasharray="2.7 2.4 2.7 7.4" clip-path="url(#c2)" stroke-linejoin="round"/>
<path d="M52 257.4L282 257.4" fill="none" stroke="#000000" stroke-width="1.45" clip-path="url(#c3)" stroke-linejoin="miter" stroke-miterlimit="3"/>
<path d="M52 257.4L53.2 256.9L54.4 256.4L55.6 255.9L56.8 255.4L58 254.9L59.2 254.3L60.3 253.7L61.5 253.1L62.7 252.5L63.9 251.9L65.1 251.2L66.3 250.4L67.5 249.6L68.7 248.8L69.9 247.9L71.1 247L72.3 246.2L73.5 245.4L74.6 244.6L75.8 243.9L77 243.4L78.2 242.9L79.4 242.4L80.6 241.9L81.8 241.5L83 241.1L84.2 240.7L85.4 240.4L86.6 240.1L87.8 240L89 239.9L90.1 239.8L91.3 239.7L92.5 239.7L93.7 239.6L94.9 239.6L96.1 239.6L97.3 239.6L98.5 239.6L99.7 239.6L100.9 239.7L102.1 239.8L103.3 239.9L104.4 240L105.6 240.2L106.8 240.4L108 240.6L109.2 240.8L110.4 241L111.6 241.2L112.8 241.4L114 241.7L115.2 241.9L116.4 242.2L117.6 242.6L118.7 242.9L119.9 243.2L121.1 243.6L122.3 244L123.5 244.4L124.7 244.8L125.9 245.2L127.1 245.5L128.3 245.9L129.5 246.3L130.7 246.7L131.9 247.1L133.1 247.5L134.2 247.9L135.4 248.3L136.6 248.7L137.8 249.2L139 249.6L140.2 250L141.4 250.5L142.6 250.9L143.8 251.3L145 251.8L146.2 252.2L147.4 252.7L148.5 253.2L149.7 253.6L150.9 254.1L152.1 254.5L153.3 255L154.5 255.4L155.7 255.9L156.9 256.3L158.1 256.8L159.3 257.2L160.5 257.7L161.7 258.1L162.9 258.6L164 259L165.2 259.5L166.4 259.9L167.6 260.4L168.8 260.8L170 261.3L171.2 261.7L172.4 262.2L173.6 262.6L174.8 263.1L176 263.5L177.2 264L178.3 264.4L179.5 264.9L180.7 265.3L181.9 265.8L183.1 266.2L184.3 266.7L185.5 267.1L186.7 267.6L187.9 268L189.1 268.5L190.3 268.9L191.5 269.4L192.7 269.8L193.8 270.3L195 270.7L196.2 271.1L197.4 271.6L198.6 272L199.8 272.5L201 272.9L202.2 273.4L203.4 273.8L204.6 274.3L205.8 274.8L207 275.2L208.1 275.7L209.3 276.1L210.5 276.5L211.7 277L212.9 277.4L214.1 277.8L215.3 278.2L216.5 278.6L217.7 279L218.9 279.3L220.1 279.7L221.3 280L222.4 280.4L223.6 280.7L224.8 281.1L226 281.4L227.2 281.7L228.4 282L229.6 282.3L230.8 282.6L232 282.9L233.2 283.1L234.4 283.4L235.6 283.6L236.8 283.8L237.9 284L239.1 284.2L240.3 284.4L241.5 284.6" fill="none" stroke="#ff0000" stroke-width="1.55" stroke-dasharray="6 2.4" stroke-dashoffset="6.35" clip-path="url(#c3)" stroke-linejoin="round"/>
<path d="M52 257.4L53.1 257L54.1 256.7L55.2 256.3L56.2 256L57.3 255.6L58.3 255.3L59.4 254.9L60.4 254.5L61.5 254.2L62.5 253.8L63.6 253.4L64.6 253L65.7 252.6L66.7 252.2L67.8 251.7L68.9 251.3L69.9 250.9L71 250.6L72 250.3L73.1 250.1L74.1 249.8L75.2 249.6L76.2 249.5L77.3 249.3L78.3 249.3L79.4 249.3L80.4 249.3L81.5 249.4L82.5 249.5L83.6 249.7L84.7 249.8L85.7 250L86.8 250.3L87.8 250.5L88.9 250.7L89.9 251L91 251.2L92 251.5L93.1 251.8L94.1 252.1L95.2 252.5L96.2 252.9L97.3 253.3L98.3 253.7L99.4 254.2L100.5 254.6L101.5 255.1L102.6 255.6L103.6 256L104.7 256.5L105.7 256.9L106.8 257.3L107.8 257.7L108.9 258.2L109.9 258.6L111 259L112 259.4L113.1 259.8L114.1 260.2L115.2 260.6L116.3 261L117.3 261.4L118.4 261.8L119.4 262.3L120.5 262.7L121.5 263.1L122.6 263.6L123.6 264L124.7 264.4L125.7 264.9L126.8 265.3L127.8 265.8L128.9 266.3L129.9 266.7L131 267.2L132.1 267.7L133.1 268.1L134.2 268.6L135.2 269.1L136.3 269.6L137.3 270L138.4 270.5L139.4 271L140.5 271.4L141.5 271.9L142.6 272.3L143.6 272.8L144.7 273.3L145.8 273.7L146.8 274.2L147.9 274.6L148.9 275.1L150 275.6L151 276L152.1 276.5L153.1 277L154.2 277.4L155.2 277.9L156.3 278.3L157.3 278.8L158.4 279.2L159.4 279.7L160.5 280.2L161.6 280.6L162.6 281.1L163.7 281.5L164.7 281.9L165.8 282.4L166.8 282.8L167.9 283.3L168.9 283.7L170 284.1L171 284.5L172.1 285L173.1 285.4L174.2 285.8L175.2 286.2L176.3 286.6L177.4 287.1L178.4 287.5L179.5 287.9L180.5 288.3L181.6 288.7L182.6 289.1L183.7 289.5L184.7 290L185.8 290.4L186.8 290.8L187.9 291.3L188.9 291.7L190 292.1L191 292.6L192.1 293.1L193.2 293.6L194.2 294.1L195.3 294.6L196.3 295.2L197.4 295.7L198.4 296.2L199.5 296.7L200.5 297.2L201.6 297.7L202.6 298.1L203.7 298.5L204.7 298.9L205.8 299.3L206.8 299.6L207.9 299.8L209 300.1L210 300.3L211.1 300.6L212.1 300.8L213.2 301L214.2 301.2L215.3 301.4L216.3 301.6L217.4 301.7L218.4 301.8L219.5 301.9" fill="none" stroke="#008000" stroke-width="1.5" stroke-dasharray="3.0 3.4" stroke-dashoffset="3.22" clip-path="url(#c3)" stroke-linejoin="round"/>
<path d="M52 257.4L53 257.1L53.9 256.8L54.9 256.5L55.8 256.2L56.8 255.9L57.7 255.6L58.7 255.4L59.6 255.1L60.6 254.8L61.5 254.6L62.5 254.4L63.5 254.1L64.4 253.9L65.4 253.7L66.3 253.4L67.3 253.1L68.2 252.9L69.2 252.7L70.1 252.5L71.1 252.4L72 252.4L73 252.4L74 252.5L74.9 252.6L75.9 252.7L76.8 252.9L77.8 253.1L78.7 253.3L79.7 253.5L80.6 253.8L81.6 254L82.6 254.3L83.5 254.5L84.5 254.8L85.4 255L86.4 255.3L87.3 255.6L88.3 255.9L89.2 256.3L90.2 256.6L91.1 257.1L92.1 257.6L93.1 258.1L94 258.8L95 259.4L95.9 260.1L96.9 260.8L97.8 261.5L98.8 262.1L99.7 262.7L100.7 263.3L101.6 263.9L102.6 264.5L103.6 265.1L104.5 265.7L105.5 266.2L106.4 266.8L107.4 267.4L108.3 268L109.3 268.5L110.2 269.1L111.2 269.7L112.1 270.2L113.1 270.8L114.1 271.3L115 271.9L116 272.4L116.9 272.9L117.9 273.5L118.8 274L119.8 274.5L120.7 275.1L121.7 275.6L122.6 276.1L123.6 276.6L124.6 277.1L125.5 277.6L126.5 278.1L127.4 278.6L128.4 279.1L129.3 279.6L130.3 280L131.2 280.5L132.2 281L133.2 281.5L134.1 282L135.1 282.5L136 282.9L137 283.4L137.9 283.9L138.9 284.4L139.8 284.9L140.8 285.4L141.7 285.9L142.7 286.4L143.7 286.9L144.6 287.3L145.6 287.8L146.5 288.3L147.5 288.8L148.4 289.3L149.4 289.8L150.3 290.3L151.3 290.8L152.2 291.3L153.2 291.8L154.2 292.3L155.1 292.8L156.1 293.3L157 293.7L158 294.2L158.9 294.7L159.9 295.2L160.8 295.7L161.8 296.1L162.7 296.6L163.7 297L164.7 297.5L165.6 297.9L166.6 298.4L167.5 298.8L168.5 299.2L169.4 299.6L170.4 300L171.3 300.4L172.3 300.8L173.2 301.2L174.2 301.6L175.2 302L176.1 302.4L177.1 302.8L178 303.2L179 303.6L179.9 304L180.9 304.3L181.8 304.7L182.8 305.1L183.8 305.4L184.7 305.8L185.7 306.1L186.6 306.5L187.6 306.8L188.5 307.2L189.5 307.5L190.4 307.9L191.4 308.2L192.3 308.5L193.3 308.8L194.3 309.2L195.2 309.5L196.2 309.8L197.1 310.1L198.1 310.4L199 310.7L200 311L200.9 311.3L201.9 311.7L202.8 312L203.8 312.3" fill="none" stroke="#0000ff" stroke-width="1.6" stroke-dasharray="1.5 1.85" stroke-dashoffset="2.7" clip-path="url(#c3)" stroke-linejoin="round"/>
<path d="M52 257.4L52.8 257.1L53.6 256.9L54.5 256.7L55.3 256.5L56.1 256.3L56.9 256.1L57.8 255.9L58.6 255.8L59.4 255.6L60.2 255.4L61.1 255.2L61.9 255.1L62.7 255.1L63.5 255.1L64.4 255.1L65.2 255.1L66 255.2L66.8 255.3L67.7 255.4L68.5 255.5L69.3 255.6L70.1 255.7L71 255.8L71.8 256L72.6 256.1L73.4 256.3L74.3 256.5L75.1 256.7L75.9 256.9L76.7 257.2L77.6 257.5L78.4 257.8L79.2 258.1L80 258.5L80.9 258.9L81.7 259.4L82.5 259.8L83.3 260.3L84.2 260.8L85 261.3L85.8 261.9L86.6 262.4L87.5 263L88.3 263.6L89.1 264.2L89.9 264.9L90.8 265.5L91.6 266.2L92.4 266.9L93.2 267.6L94.1 268.3L94.9 269L95.7 269.8L96.5 270.5L97.3 271.3L98.2 272L99 272.7L99.8 273.4L100.6 274.1L101.5 274.7L102.3 275.4L103.1 276L103.9 276.6L104.8 277.3L105.6 277.9L106.4 278.5L107.2 279.1L108.1 279.7L108.9 280.3L109.7 280.9L110.5 281.5L111.4 282.1L112.2 282.7L113 283.3L113.8 283.9L114.7 284.4L115.5 285L116.3 285.6L117.1 286.1L118 286.7L118.8 287.3L119.6 287.8L120.4 288.3L121.3 288.9L122.1 289.4L122.9 290L123.7 290.5L124.6 291L125.4 291.6L126.2 292.1L127 292.6L127.9 293.1L128.7 293.6L129.5 294.1L130.3 294.6L131.2 295.1L132 295.6L132.8 296.1L133.6 296.6L134.5 297.1L135.3 297.6L136.1 298.1L136.9 298.5L137.8 299L138.6 299.5L139.4 300L140.2 300.4L141 300.9L141.9 301.4L142.7 301.9L143.5 302.3L144.3 302.8L145.2 303.3L146 303.8L146.8 304.3L147.6 304.7L148.5 305.2L149.3 305.7L150.1 306.2L150.9 306.7L151.8 307.2L152.6 307.7L153.4 308.2L154.2 308.7L155.1 309.2L155.9 309.7L156.7 310.1L157.5 310.6L158.4 311.1L159.2 311.5L160 312L160.8 312.4L161.7 312.8L162.5 313.3L163.3 313.7L164.1 314.1L165 314.4L165.8 314.8L166.6 315.2L167.4 315.5L168.3 315.8L169.1 316.1L169.9 316.4L170.7 316.7L171.6 317L172.4 317.3L173.2 317.5L174 317.8L174.9 318.1L175.7 318.3L176.5 318.6L177.3 318.8L178.2 319.1L179 319.3L179.8 319.6L180.6 319.8L181.5 320.1L182.3 320.4L183.1 320.6" fill="none" stroke="#c080ff" stroke-width="1.45" stroke-dasharray="7.6 2.4 1.5 2.5" stroke-dashoffset="11.71" clip-path="url(#c3)" stroke-linejoin="round"/>
<path d="M52 257.4L52.7 257.2L53.4 257.1L54.1 257L54.8 256.8L55.5 256.7L56.2 256.6L56.9 256.5L57.6 256.4L58.4 256.4L59.1 256.3L59.8 256.2L60.5 256.1L61.2 256.1L61.9 256L62.6 256L63.3 256L64 256L64.7 256.1L65.4 256.1L66.1 256.2L66.8 256.3L67.5 256.4L68.2 256.5L68.9 256.5L69.6 256.6L70.4 256.7L71.1 256.8L71.8 257L72.5 257.1L73.2 257.2L73.9 257.4L74.6 257.6L75.3 257.9L76 258.2L76.7 258.5L77.4 258.8L78.1 259.2L78.8 259.6L79.5 260.1L80.2 260.6L80.9 261.1L81.6 261.6L82.4 262.1L83.1 262.7L83.8 263.2L84.5 263.7L85.2 264.3L85.9 264.9L86.6 265.5L87.3 266.1L88 266.7L88.7 267.4L89.4 268L90.1 268.7L90.8 269.3L91.5 270L92.2 270.7L92.9 271.3L93.6 272L94.4 272.6L95.1 273.3L95.8 273.9L96.5 274.5L97.2 275.1L97.9 275.7L98.6 276.3L99.3 276.9L100 277.5L100.7 278.1L101.4 278.7L102.1 279.3L102.8 279.9L103.5 280.5L104.2 281L104.9 281.6L105.6 282.2L106.4 282.8L107.1 283.4L107.8 284L108.5 284.6L109.2 285.1L109.9 285.7L110.6 286.3L111.3 286.9L112 287.5L112.7 288.1L113.4 288.7L114.1 289.3L114.8 289.9L115.5 290.5L116.2 291.1L116.9 291.7L117.6 292.3L118.4 292.9L119.1 293.5L119.8 294.1L120.5 294.7L121.2 295.3L121.9 295.8L122.6 296.4L123.3 297L124 297.6L124.7 298.1L125.4 298.7L126.1 299.3L126.8 299.8L127.5 300.4L128.2 300.9L128.9 301.5L129.7 302L130.4 302.6L131.1 303.1L131.8 303.6L132.5 304.1L133.2 304.6L133.9 305.1L134.6 305.6L135.3 306.1L136 306.6L136.7 307.1L137.4 307.6L138.1 308L138.8 308.5L139.5 309L140.2 309.5L140.9 310L141.7 310.4L142.4 310.9L143.1 311.3L143.8 311.8L144.5 312.2L145.2 312.7L145.9 313.1L146.6 313.5L147.3 314L148 314.4L148.7 314.7L149.4 315.1L150.1 315.5L150.8 315.8L151.5 316.2L152.2 316.5L152.9 316.8L153.7 317.1L154.4 317.4L155.1 317.7L155.8 318L156.5 318.2L157.2 318.5L157.9 318.8L158.6 319L159.3 319.2L160 319.5L160.7 319.7L161.4 319.9L162.1 320.1L162.8 320.3L163.5 320.5L164.2 320.6" fill="none" stroke="#ff00ff" stroke-width="1.6" stroke-dasharray="2.7 2.4 2.7 7.4" stroke-dashoffset="11.27" clip-path="url(#c3)" stroke-linejoin="round"/>
<path d="M346.5 257.4L576.6 257.4" fill="none" stroke="#000000" stroke-width="1.45" clip-path="url(#c4)" stroke-linejoin="miter" stroke-miterlimit="3"/>
<path d="M346.5 257.4L347.7 257L348.9 256.7L350.1 256.4L351.3 256.1L352.5 255.8L353.7 255.5L354.9 255.3L356.1 255L357.3 254.7L358.4 254.4L359.6 254.2L360.8 253.9L362 253.7L363.2 253.5L364.4 253.3L365.6 253.1L366.8 253L368 252.8L369.2 252.7L370.4 252.6L371.6 252.5L372.8 252.4L374 252.4L375.2 252.4L376.4 252.4L377.6 252.5L378.8 252.6L380 252.7L381.1 252.8L382.3 253L383.5 253.1L384.7 253.3L385.9 253.4L387.1 253.6L388.3 253.8L389.5 254L390.7 254.2L391.9 254.4L393.1 254.7L394.3 255L395.5 255.3L396.7 255.6L397.9 255.9L399.1 256.2L400.3 256.5L401.5 256.9L402.7 257.2L403.8 257.5L405 257.8L406.2 258.1L407.4 258.4L408.6 258.7L409.8 259.1L411 259.4L412.2 259.7L413.4 260.1L414.6 260.4L415.8 260.7L417 261.1L418.2 261.4L419.4 261.8L420.6 262.1L421.8 262.5L423 262.9L424.2 263.2L425.4 263.6L426.6 264L427.7 264.4L428.9 264.8L430.1 265.2L431.3 265.6L432.5 266L433.7 266.4L434.9 266.8L436.1 267.2L437.3 267.6L438.5 268L439.7 268.4L440.9 268.8L442.1 269.1L443.3 269.5L444.5 269.9L445.7 270.2L446.9 270.6L448.1 270.9L449.3 271.3L450.4 271.6L451.6 272L452.8 272.3L454 272.7L455.2 273.1L456.4 273.4L457.6 273.8L458.8 274.2L460 274.5L461.2 274.9L462.4 275.3L463.6 275.7L464.8 276.1L466 276.5L467.2 276.9L468.4 277.3L469.6 277.7L470.8 278.1L472 278.5L473.1 278.8L474.3 279.2L475.5 279.6L476.7 280L477.9 280.4L479.1 280.8L480.3 281.2L481.5 281.6L482.7 282L483.9 282.4L485.1 282.8L486.3 283.2L487.5 283.5L488.7 283.9L489.9 284.3L491.1 284.7L492.3 285.1L493.5 285.5L494.7 285.9L495.8 286.2L497 286.6L498.2 287L499.4 287.3L500.6 287.7L501.8 288.1L503 288.4L504.2 288.8L505.4 289.2L506.6 289.5L507.8 289.9L509 290.2L510.2 290.6L511.4 290.9L512.6 291.3L513.8 291.6L515 291.9L516.2 292.2L517.4 292.5L518.5 292.9L519.7 293.2L520.9 293.5L522.1 293.8L523.3 294L524.5 294.3L525.7 294.5L526.9 294.7L528.1 294.9L529.3 295.1L530.5 295.3L531.7 295.4L532.9 295.6L534.1 295.7L535.3 295.8L536.5 295.9" fill="none" stroke="#ff0000" stroke-width="1.55" stroke-dasharray="6 2.4" stroke-dashoffset="2.55" clip-path="url(#c4)" stroke-linejoin="round"/>
<path d="M346.5 257.4L347.6 257.1L348.6 256.8L349.7 256.6L350.8 256.4L351.8 256.1L352.9 255.9L353.9 255.8L355 255.6L356.1 255.5L357.1 255.4L358.2 255.2L359.3 255.1L360.3 255L361.4 254.9L362.5 254.8L363.5 254.7L364.6 254.7L365.7 254.6L366.7 254.6L367.8 254.6L368.8 254.7L369.9 254.8L371 254.9L372 255.1L373.1 255.4L374.2 255.6L375.2 255.9L376.3 256.2L377.4 256.5L378.4 256.8L379.5 257.1L380.5 257.4L381.6 257.7L382.7 258L383.7 258.3L384.8 258.7L385.9 259L386.9 259.4L388 259.8L389.1 260.2L390.1 260.6L391.2 261L392.3 261.4L393.3 261.8L394.4 262.2L395.4 262.6L396.5 263L397.6 263.4L398.6 263.8L399.7 264.2L400.8 264.6L401.8 265L402.9 265.4L404 265.8L405 266.2L406.1 266.7L407.1 267.1L408.2 267.5L409.3 267.9L410.3 268.3L411.4 268.7L412.5 269L413.5 269.4L414.6 269.8L415.7 270.2L416.7 270.5L417.8 270.9L418.8 271.2L419.9 271.6L421 271.9L422 272.2L423.1 272.6L424.2 272.9L425.2 273.2L426.3 273.6L427.4 273.9L428.4 274.3L429.5 274.6L430.6 274.9L431.6 275.3L432.7 275.6L433.7 275.9L434.8 276.3L435.9 276.6L436.9 277L438 277.3L439.1 277.6L440.1 278L441.2 278.3L442.3 278.7L443.3 279.1L444.4 279.4L445.4 279.8L446.5 280.2L447.6 280.6L448.6 281L449.7 281.4L450.8 281.7L451.8 282.1L452.9 282.5L454 282.9L455 283.3L456.1 283.6L457.2 284L458.2 284.4L459.3 284.7L460.3 285.1L461.4 285.4L462.5 285.7L463.5 286.1L464.6 286.4L465.7 286.8L466.7 287.1L467.8 287.4L468.9 287.8L469.9 288.1L471 288.4L472 288.8L473.1 289.1L474.2 289.4L475.2 289.8L476.3 290.1L477.4 290.4L478.4 290.8L479.5 291.1L480.6 291.5L481.6 291.9L482.7 292.3L483.8 292.6L484.8 293L485.9 293.4L486.9 293.8L488 294.2L489.1 294.6L490.1 294.9L491.2 295.3L492.3 295.6L493.3 295.9L494.4 296.3L495.5 296.6L496.5 296.8L497.6 297.1L498.6 297.4L499.7 297.6L500.8 297.9L501.8 298.1L502.9 298.3L504 298.6L505 298.8L506.1 299L507.2 299.2L508.2 299.4L509.3 299.6L510.3 299.8L511.4 300L512.5 300.2L513.5 300.3L514.6 300.5L515.7 300.6" fill="none" stroke="#008000" stroke-width="1.5" stroke-dasharray="3.0 3.4" stroke-dashoffset="5.52" clip-path="url(#c4)" stroke-linejoin="round"/>
<path d="M346.5 257.4L347.5 257.2L348.4 257L349.4 256.8L350.3 256.6L351.3 256.5L352.2 256.4L353.2 256.2L354.2 256.1L355.1 256L356.1 255.9L357 255.8L358 255.7L358.9 255.7L359.9 255.6L360.9 255.5L361.8 255.5L362.8 255.5L363.7 255.6L364.7 255.7L365.6 255.9L366.6 256.1L367.6 256.3L368.5 256.6L369.5 256.9L370.4 257.1L371.4 257.4L372.3 257.7L373.3 258L374.3 258.3L375.2 258.7L376.2 259.1L377.1 259.5L378.1 259.9L379 260.3L380 260.8L381 261.3L381.9 261.7L382.9 262.2L383.8 262.7L384.8 263.1L385.7 263.6L386.7 264L387.7 264.5L388.6 264.9L389.6 265.3L390.5 265.8L391.5 266.2L392.4 266.7L393.4 267.1L394.4 267.5L395.3 268L396.3 268.4L397.2 268.9L398.2 269.3L399.1 269.8L400.1 270.2L401.1 270.6L402 271L403 271.5L403.9 271.9L404.9 272.3L405.8 272.6L406.8 273L407.8 273.4L408.7 273.8L409.7 274.1L410.6 274.5L411.6 274.8L412.5 275.2L413.5 275.5L414.5 275.9L415.4 276.2L416.4 276.5L417.3 276.9L418.3 277.2L419.2 277.6L420.2 278L421.2 278.3L422.1 278.7L423.1 279.1L424 279.5L425 279.9L425.9 280.3L426.9 280.7L427.9 281.1L428.8 281.6L429.8 282L430.7 282.4L431.7 282.8L432.6 283.3L433.6 283.7L434.6 284.1L435.5 284.5L436.5 285L437.4 285.4L438.4 285.8L439.3 286.2L440.3 286.6L441.3 287L442.2 287.4L443.2 287.8L444.1 288.2L445.1 288.6L446 289L447 289.4L448 289.7L448.9 290.1L449.9 290.5L450.8 290.9L451.8 291.3L452.7 291.6L453.7 292L454.7 292.4L455.6 292.8L456.6 293.1L457.5 293.5L458.5 293.8L459.4 294.2L460.4 294.6L461.4 294.9L462.3 295.3L463.3 295.6L464.2 296L465.2 296.3L466.1 296.7L467.1 297L468.1 297.4L469 297.7L470 298.1L470.9 298.4L471.9 298.7L472.8 299L473.8 299.4L474.8 299.7L475.7 300L476.7 300.3L477.6 300.5L478.6 300.8L479.5 301.1L480.5 301.4L481.5 301.7L482.4 301.9L483.4 302.2L484.3 302.5L485.3 302.7L486.2 303L487.2 303.2L488.2 303.5L489.1 303.7L490.1 303.9L491 304.2L492 304.4L492.9 304.6L493.9 304.9L494.9 305.1L495.8 305.3L496.8 305.5L497.7 305.7L498.7 305.9" fill="none" stroke="#0000ff" stroke-width="1.6" stroke-dasharray="1.5 1.85" stroke-dashoffset="0.56" clip-path="url(#c4)" stroke-linejoin="round"/>
<path d="M346.5 257.4L347.3 257.2L348.2 257.1L349 257L349.8 256.9L350.6 256.8L351.5 256.7L352.3 256.7L353.1 256.7L353.9 256.7L354.8 256.7L355.6 256.7L356.4 256.8L357.2 256.8L358.1 256.9L358.9 257L359.7 257.1L360.5 257.2L361.4 257.3L362.2 257.4L363 257.5L363.8 257.8L364.7 258.2L365.5 258.7L366.3 259.2L367.2 259.8L368 260.4L368.8 261L369.6 261.6L370.5 262.1L371.3 262.6L372.1 263.2L372.9 263.7L373.8 264.3L374.6 264.8L375.4 265.4L376.2 266L377.1 266.6L377.9 267.2L378.7 267.8L379.5 268.4L380.4 269L381.2 269.6L382 270.2L382.8 270.8L383.7 271.4L384.5 272L385.3 272.6L386.2 273.1L387 273.7L387.8 274.2L388.6 274.8L389.5 275.3L390.3 275.8L391.1 276.3L391.9 276.8L392.8 277.3L393.6 277.9L394.4 278.4L395.2 278.9L396.1 279.3L396.9 279.8L397.7 280.3L398.5 280.8L399.4 281.3L400.2 281.8L401 282.3L401.8 282.7L402.7 283.2L403.5 283.7L404.3 284.2L405.1 284.6L406 285.1L406.8 285.6L407.6 286L408.5 286.5L409.3 287L410.1 287.4L410.9 287.9L411.8 288.3L412.6 288.8L413.4 289.2L414.2 289.6L415.1 290.1L415.9 290.5L416.7 291L417.5 291.4L418.4 291.9L419.2 292.3L420 292.8L420.8 293.3L421.7 293.7L422.5 294.2L423.3 294.7L424.1 295.2L425 295.7L425.8 296.2L426.6 296.7L427.5 297.2L428.3 297.7L429.1 298.2L429.9 298.7L430.8 299.2L431.6 299.7L432.4 300.2L433.2 300.7L434.1 301.3L434.9 301.8L435.7 302.3L436.5 302.8L437.4 303.4L438.2 303.9L439 304.3L439.8 304.8L440.7 305.3L441.5 305.7L442.3 306.2L443.1 306.6L444 307.1L444.8 307.5L445.6 307.9L446.5 308.4L447.3 308.8L448.1 309.2L448.9 309.6L449.8 310.1L450.6 310.5L451.4 310.8L452.2 311.2L453.1 311.6L453.9 312L454.7 312.3L455.5 312.6L456.4 313L457.2 313.3L458 313.6L458.8 313.9L459.7 314.1L460.5 314.4L461.3 314.7L462.1 314.9L463 315.2L463.8 315.4L464.6 315.7L465.5 315.9L466.3 316.1L467.1 316.4L467.9 316.6L468.8 316.8L469.6 317L470.4 317.2L471.2 317.4L472.1 317.6L472.9 317.7L473.7 317.9L474.5 318.1L475.4 318.2L476.2 318.3L477 318.5L477.8 318.6" fill="none" stroke="#c080ff" stroke-width="1.45" stroke-dasharray="7.6 2.4 1.5 2.5" stroke-dashoffset="0" clip-path="url(#c4)" stroke-linejoin="round"/>
<path d="M346.5 257.4L347.2 257.3L347.9 257.2L348.7 257.1L349.4 257L350.1 257L350.8 256.9L351.5 256.9L352.3 256.9L353 256.9L353.7 256.9L354.4 256.9L355.1 257L355.9 257L356.6 257L357.3 257.1L358 257.1L358.8 257.2L359.5 257.3L360.2 257.3L360.9 257.5L361.6 257.8L362.4 258.3L363.1 259L363.8 259.8L364.5 260.7L365.2 261.6L366 262.5L366.7 263.3L367.4 264.1L368.1 264.8L368.8 265.5L369.6 266.2L370.3 266.9L371 267.6L371.7 268.3L372.4 269L373.2 269.7L373.9 270.5L374.6 271.2L375.3 271.9L376 272.7L376.8 273.5L377.5 274.3L378.2 275.1L378.9 276L379.7 276.9L380.4 277.7L381.1 278.6L381.8 279.5L382.5 280.4L383.3 281.2L384 282.1L384.7 282.9L385.4 283.7L386.1 284.5L386.9 285.3L387.6 286.1L388.3 286.8L389 287.6L389.7 288.3L390.5 289L391.2 289.7L391.9 290.5L392.6 291.2L393.3 291.9L394.1 292.6L394.8 293.3L395.5 294L396.2 294.7L396.9 295.4L397.7 296.1L398.4 296.8L399.1 297.5L399.8 298.2L400.6 298.9L401.3 299.6L402 300.3L402.7 301L403.4 301.7L404.2 302.4L404.9 303.1L405.6 303.8L406.3 304.5L407 305.1L407.8 305.8L408.5 306.5L409.2 307.1L409.9 307.8L410.6 308.4L411.4 309L412.1 309.6L412.8 310.2L413.5 310.8L414.2 311.4L415 311.9L415.7 312.5L416.4 313.1L417.1 313.7L417.8 314.2L418.6 314.8L419.3 315.4L420 315.9L420.7 316.5L421.5 317L422.2 317.6L422.9 318.1L423.6 318.6L424.3 319.1L425.1 319.6L425.8 320.2L426.5 320.6L427.2 321.1L427.9 321.6L428.7 322.1L429.4 322.6L430.1 323L430.8 323.4L431.5 323.9L432.3 324.3L433 324.7L433.7 325.1L434.4 325.5L435.1 325.9L435.9 326.3L436.6 326.6L437.3 327L438 327.4L438.7 327.7L439.5 328.1L440.2 328.4L440.9 328.7L441.6 329.1L442.4 329.4L443.1 329.7L443.8 330L444.5 330.3L445.2 330.6L446 330.9L446.7 331.2L447.4 331.4L448.1 331.7L448.8 332L449.6 332.2L450.3 332.5L451 332.7L451.7 333L452.4 333.2L453.2 333.4L453.9 333.7L454.6 333.9L455.3 334.1L456 334.3L456.8 334.5L457.5 334.7L458.2 334.9L458.9 335.1L459.6 335.3L460.4 335.5L461.1 335.6" fill="none" stroke="#ff00ff" stroke-width="1.6" stroke-dasharray="2.7 2.4 2.7 7.4" stroke-dashoffset="0.86" clip-path="url(#c4)" stroke-linejoin="round"/>
<path d="M44.4 565.9L93.8 565.4L102.1 565.2L105.2 565L108.1 564.8L110.9 564.5L113.1 564.1L115 563.7L116.6 563.1L117.9 562.5L118.5 562.1L119.2 561.6L120.1 560.7L121.1 559.4L121.7 558.3L122 557.6L122.6 555.9L123.3 553.7L123.9 550.6L124.6 546.3L124.9 543.4L125.2 539.9L125.5 535.6L125.8 530.2L126.1 523.5L126.5 515.1L126.8 504.6L127.1 491.7L128 443.4L128.4 431.9L128.6 428.7L128.7 428.9L129 435.6L129.3 449.5L129.9 482.8L130.6 509.1L130.9 518.7L131.2 526.4L131.5 532.5L131.8 537.5L132.2 541.4L132.5 544.7L132.8 547.3L133.4 551.4L134.1 554.3L134.7 556.4L135 557.2L135.6 558.6L136.3 559.7L136.9 560.6L137.5 561.3L138.2 561.8L139.1 562.5L140.1 563L141 563.5L142.3 563.9L143.6 564.2L145.1 564.5L147 564.8L148.9 565L153.7 565.3L159.7 565.5L168.3 565.6L178.4 565.7L186.3 565.6L192.3 565.4L196.8 565.2L200.3 564.8L202.8 564.4L204.1 564.1L205 563.7L206 563.3L206.9 562.7L207.6 562.2L208.2 561.6L208.8 560.8L209.1 560.3L209.8 559.1L210.4 557.6L211 555.4L211.7 552.4L212 550.4L212.3 547.9L212.6 544.9L212.9 541.2L213.3 536.6L213.6 530.7L213.9 523.5L214.2 514.6L215.2 481.6L215.5 473.8L215.7 471.7L215.8 471.8L216.1 476.4L216.4 485.8L217.1 508.5L217.7 526.6L218 533.2L218.3 538.5L218.6 542.8L219 546.2L219.3 549L219.6 551.2L220.2 554.6L220.5 555.9L221.2 557.9L221.8 559.4L222.1 560L222.8 561L223.4 561.7L224 562.3L224.7 562.8L225.3 563.2L225.9 563.5L226.9 563.9L227.5 564.1L228.1 564.1L228.8 564L229.4 563.8L231.3 563.1L232.3 562.8L232.9 562.7L234.8 562.5L239.5 562L248.7 561.2L267.1 559.2L282 557.9" fill="none" stroke="#000000" stroke-width="1.45" clip-path="url(#c5)" stroke-linejoin="miter" stroke-miterlimit="3"/>
<path d="M44.4 566L45.4 566L46.4 566L47.4 566L48.4 566L49.4 566L50.4 566L51.4 566L52.4 566L53.3 566L54.3 566L55.3 566L56.3 566L57.3 566L58.3 566L59.3 566L60.3 566L61.3 565.9L62.3 565.9L63.3 565.9L64.3 565.9L65.3 565.9L66.3 565.9L67.3 565.9L68.3 565.9L69.3 565.9L70.2 565.9L71.2 565.9L72.2 565.9L73.2 565.9L74.2 565.9L75.2 565.9L76.2 565.8L77.2 565.8L78.2 565.8L79.2 565.8L80.2 565.8L81.2 565.8L82.2 565.8L83.2 565.8L84.2 565.8L85.2 565.8L86.2 565.8L87.1 565.7L88.1 565.7L89.1 565.7L90.1 565.7L91.1 565.7L92.1 565.7L93.1 565.7L94.1 565.7L95.1 565.7L96.1 565.7L97.1 565.7L98.1 565.6L99.1 565.6L100.1 565.6L101.1 565.6L102.1 565.6L103.1 565.6L104 565.6L105 565.6L106 565.5L107 565.5L108 565.5L109 565.5L110 565.5L111 565.5L112 565.4L113 565.4L114 565.4L115 565.4L116 565.4L117 565.3L118 565.3L119 565.3L120 565.3L120.9 565.2L121.9 565.2L122.9 565.2L123.9 565.1L124.9 565.1L125.9 565L126.9 564.9L127.9 564.9L128.9 564.8L129.9 564.7L130.9 564.7L131.9 564.6L132.9 564.5L133.9 564.4L134.9 564.3L135.9 564.2L136.9 564.1L137.8 564L138.8 563.9L139.8 563.8L140.8 563.6L141.8 563.4L142.8 563.2L143.8 563L144.8 562.6L145.8 562.3L146.8 562L147.8 561.6L148.8 561.2L149.8 560.7L150.8 560.2L151.8 559.7L152.8 559.1L153.8 558.4L154.7 557.8L155.7 557.1L156.7 556.4L157.7 555.6L158.7 554.7L159.7 553.8L160.7 552.8L161.7 551.8L162.7 550.9L163.7 550L164.7 549.2L165.7 548.3L166.7 547.5L167.7 546.7L168.7 546.1L169.7 545.6L170.7 545.1L171.7 544.7L172.6 544.6L173.6 544.8L174.6 545.1L175.6 545.6L176.6 546.2L177.6 547.1L178.6 548.1L179.6 549L180.6 549.8L181.6 550.7L182.6 551.5L183.6 552.4L184.6 553.2L185.6 554L186.6 554.7L187.6 555.3L188.6 555.9L189.5 556.5L190.5 557.1L191.5 557.6L192.5 558L193.5 558.3L194.5 558.5L195.5 558.7L196.5 558.9L197.5 559L198.5 559.2L199.5 559.3L200.5 559.3L201.5 559.4L202.5 559.5L203.5 559.5L204.5 559.5L205.5 559.6L206.4 559.6L207.4 559.6L208.4 559.6L209.4 559.6L210.4 559.6L211.4 559.6L212.4 559.6L213.4 559.6L214.4 559.5L215.4 559.5L216.4 559.5L217.4 559.5L218.4 559.5L219.4 559.4L220.4 559.4L221.4 559.4L222.4 559.4L223.3 559.3L224.3 559.3L225.3 559.3L226.3 559.2L227.3 559.2L228.3 559.2L229.3 559.2L230.3 559.1L231.3 559.1L232.3 559.1L233.3 559L234.3 559L235.3 559L236.3 559L237.3 558.9L238.3 558.9L239.3 558.9L240.2 558.8L241.2 558.8L242.2 558.8L243.2 558.8L244.2 558.7L245.2 558.7L246.2 558.7L247.2 558.6L248.2 558.6L249.2 558.6L250.2 558.6L251.2 558.5L252.2 558.5L253.2 558.5L254.2 558.4L255.2 558.4L256.2 558.4L257.1 558.3L258.1 558.3L259.1 558.3L260.1 558.2L261.1 558.2L262.1 558.1L263.1 558.1L264.1 558.1L265.1 558L266.1 558L267.1 558L268.1 557.9L269.1 557.9L270.1 557.9L271.1 557.8L272.1 557.8L273.1 557.7L274 557.7L275 557.7L276 557.6L277 557.6L278 557.5L279 557.5L280 557.5L281 557.4L282 557.4" fill="none" stroke="#ff0000" stroke-width="1.55" stroke-dasharray="6 2.4" clip-path="url(#c5)" stroke-linejoin="round"/>
<path d="M44.4 566L45.4 566L46.4 566L47.4 566L48.4 566L49.4 566L50.4 566L51.4 566L52.4 566L53.3 566L54.3 566L55.3 566L56.3 566L57.3 566L58.3 566L59.3 565.9L60.3 565.9L61.3 565.9L62.3 565.9L63.3 565.9L64.3 565.9L65.3 565.9L66.3 565.9L67.3 565.9L68.3 565.9L69.3 565.9L70.2 565.9L71.2 565.8L72.2 565.8L73.2 565.8L74.2 565.8L75.2 565.8L76.2 565.8L77.2 565.8L78.2 565.8L79.2 565.7L80.2 565.7L81.2 565.7L82.2 565.7L83.2 565.7L84.2 565.7L85.2 565.7L86.2 565.6L87.1 565.6L88.1 565.6L89.1 565.6L90.1 565.6L91.1 565.6L92.1 565.6L93.1 565.5L94.1 565.5L95.1 565.5L96.1 565.5L97.1 565.4L98.1 565.4L99.1 565.4L100.1 565.3L101.1 565.3L102.1 565.3L103.1 565.2L104 565.2L105 565.1L106 565.1L107 565.1L108 565L109 564.9L110 564.9L111 564.8L112 564.8L113 564.7L114 564.6L115 564.6L116 564.5L117 564.4L118 564.3L119 564.1L120 564L120.9 563.8L121.9 563.6L122.9 563.5L123.9 563.3L124.9 563L125.9 562.8L126.9 562.5L127.9 562.3L128.9 562L129.9 561.6L130.9 561.3L131.9 560.9L132.9 560.6L133.9 560.2L134.9 559.8L135.9 559.3L136.9 558.8L137.8 558.2L138.8 557.7L139.8 557.2L140.8 556.6L141.8 556.1L142.8 555.5L143.8 554.9L144.8 554.3L145.8 553.7L146.8 553.1L147.8 552.6L148.8 552.3L149.8 551.9L150.8 551.5L151.8 551.2L152.8 550.8L153.8 550.6L154.7 550.4L155.7 550.3L156.7 550.2L157.7 550.2L158.7 550.3L159.7 550.3L160.7 550.4L161.7 550.4L162.7 550.5L163.7 550.9L164.7 551.7L165.7 552.5L166.7 553.3L167.7 553.9L168.7 554.4L169.7 554.9L170.7 555.3L171.7 555.8L172.6 556.3L173.6 556.9L174.6 557.5L175.6 558L176.6 558.3L177.6 558.4L178.6 558.6L179.6 558.7L180.6 558.8L181.6 558.8L182.6 558.9L183.6 558.9L184.6 558.9L185.6 558.9L186.6 558.9L187.6 558.9L188.6 558.9L189.5 558.9L190.5 558.9L191.5 558.9L192.5 558.9L193.5 558.9L194.5 558.9L195.5 558.9L196.5 558.9L197.5 558.9L198.5 558.9L199.5 558.9L200.5 558.9L201.5 558.9L202.5 558.9L203.5 558.9L204.5 558.9L205.5 558.9L206.4 558.8L207.4 558.8L208.4 558.8L209.4 558.8L210.4 558.8L211.4 558.8L212.4 558.8L213.4 558.8L214.4 558.7L215.4 558.7L216.4 558.7L217.4 558.7L218.4 558.7L219.4 558.6L220.4 558.6L221.4 558.6L222.4 558.6L223.3 558.5L224.3 558.5L225.3 558.5L226.3 558.5L227.3 558.4L228.3 558.4L229.3 558.4L230.3 558.4L231.3 558.3L232.3 558.3L233.3 558.3L234.3 558.3L235.3 558.2L236.3 558.2L237.3 558.2L238.3 558.2L239.3 558.2L240.2 558.1L241.2 558.1L242.2 558.1L243.2 558.1L244.2 558L245.2 558L246.2 558L247.2 558L248.2 558L249.2 557.9L250.2 557.9L251.2 557.9L252.2 557.9L253.2 557.8L254.2 557.8L255.2 557.8L256.2 557.8L257.1 557.7L258.1 557.7L259.1 557.7L260.1 557.7L261.1 557.6L262.1 557.6L263.1 557.6L264.1 557.6L265.1 557.5L266.1 557.5L267.1 557.5L268.1 557.5L269.1 557.4L270.1 557.4L271.1 557.4L272.1 557.4L273.1 557.3L274 557.3L275 557.3L276 557.2L277 557.2L278 557.2L279 557.2L280 557.1L281 557.1L282 557.1" fill="none" stroke="#008000" stroke-width="1.5" stroke-dasharray="3.0 3.4" clip-path="url(#c5)" stroke-linejoin="round"/>
<path d="M44.4 566L45.4 566L46.4 566L47.4 566L48.4 566L49.4 566L50.4 566L51.4 566L52.4 566L53.3 566L54.3 566L55.3 566L56.3 566L57.3 565.9L58.3 565.9L59.3 565.9L60.3 565.9L61.3 565.9L62.3 565.9L63.3 565.9L64.3 565.9L65.3 565.9L66.3 565.8L67.3 565.8L68.3 565.8L69.3 565.8L70.2 565.8L71.2 565.8L72.2 565.8L73.2 565.7L74.2 565.7L75.2 565.7L76.2 565.7L77.2 565.7L78.2 565.7L79.2 565.6L80.2 565.6L81.2 565.6L82.2 565.6L83.2 565.6L84.2 565.6L85.2 565.5L86.2 565.5L87.1 565.5L88.1 565.5L89.1 565.5L90.1 565.4L91.1 565.4L92.1 565.4L93.1 565.4L94.1 565.4L95.1 565.3L96.1 565.3L97.1 565.3L98.1 565.2L99.1 565.2L100.1 565.2L101.1 565.1L102.1 565.1L103.1 565L104 565L105 564.9L106 564.9L107 564.8L108 564.8L109 564.7L110 564.7L111 564.6L112 564.5L113 564.5L114 564.4L115 564.3L116 564.2L117 564.1L118 564L119 563.9L120 563.8L120.9 563.7L121.9 563.5L122.9 563.4L123.9 563.2L124.9 563L125.9 562.8L126.9 562.4L127.9 561.8L128.9 561.1L129.9 560.4L130.9 559.7L131.9 559L132.9 558.4L133.9 557.8L134.9 557.3L135.9 556.7L136.9 556.2L137.8 555.7L138.8 555.2L139.8 554.8L140.8 554.4L141.8 554.1L142.8 553.7L143.8 553.4L144.8 553.1L145.8 552.9L146.8 552.8L147.8 552.8L148.8 552.8L149.8 552.9L150.8 553L151.8 553.2L152.8 553.3L153.8 553.6L154.7 553.9L155.7 554.2L156.7 554.5L157.7 554.8L158.7 555.1L159.7 555.4L160.7 555.7L161.7 556L162.7 556.3L163.7 556.5L164.7 556.8L165.7 557L166.7 557.3L167.7 557.5L168.7 557.8L169.7 558L170.7 558.1L171.7 558.2L172.6 558.3L173.6 558.4L174.6 558.4L175.6 558.4L176.6 558.5L177.6 558.5L178.6 558.6L179.6 558.6L180.6 558.6L181.6 558.6L182.6 558.7L183.6 558.7L184.6 558.7L185.6 558.7L186.6 558.7L187.6 558.7L188.6 558.7L189.5 558.7L190.5 558.7L191.5 558.7L192.5 558.7L193.5 558.7L194.5 558.7L195.5 558.7L196.5 558.7L197.5 558.7L198.5 558.7L199.5 558.6L200.5 558.6L201.5 558.6L202.5 558.6L203.5 558.6L204.5 558.6L205.5 558.6L206.4 558.6L207.4 558.6L208.4 558.5L209.4 558.5L210.4 558.5L211.4 558.5L212.4 558.5L213.4 558.5L214.4 558.5L215.4 558.4L216.4 558.4L217.4 558.4L218.4 558.4L219.4 558.4L220.4 558.4L221.4 558.3L222.4 558.3L223.3 558.3L224.3 558.3L225.3 558.3L226.3 558.3L227.3 558.2L228.3 558.2L229.3 558.2L230.3 558.2L231.3 558.2L232.3 558.2L233.3 558.1L234.3 558.1L235.3 558.1L236.3 558.1L237.3 558.1L238.3 558L239.3 558L240.2 558L241.2 558L242.2 558L243.2 558L244.2 557.9L245.2 557.9L246.2 557.9L247.2 557.9L248.2 557.8L249.2 557.8L250.2 557.8L251.2 557.8L252.2 557.8L253.2 557.7L254.2 557.7L255.2 557.7L256.2 557.7L257.1 557.6L258.1 557.6L259.1 557.6L260.1 557.6L261.1 557.5L262.1 557.5L263.1 557.5L264.1 557.5L265.1 557.4L266.1 557.4L267.1 557.4L268.1 557.3L269.1 557.3L270.1 557.3L271.1 557.3L272.1 557.2L273.1 557.2L274 557.2L275 557.1L276 557.1L277 557.1L278 557L279 557L280 557L281 557L282 556.9" fill="none" stroke="#0000ff" stroke-width="1.6" stroke-dasharray="1.5 1.85" clip-path="url(#c5)" stroke-linejoin="round"/>
<path d="M44.4 566L45.4 566L46.4 566L47.4 566L48.4 566L49.4 566L50.4 566L51.4 566L52.4 566L53.3 566L54.3 565.9L55.3 565.9L56.3 565.9L57.3 565.9L58.3 565.9L59.3 565.9L60.3 565.9L61.3 565.8L62.3 565.8L63.3 565.8L64.3 565.8L65.3 565.8L66.3 565.7L67.3 565.7L68.3 565.7L69.3 565.7L70.2 565.7L71.2 565.6L72.2 565.6L73.2 565.6L74.2 565.6L75.2 565.5L76.2 565.5L77.2 565.5L78.2 565.4L79.2 565.4L80.2 565.4L81.2 565.3L82.2 565.3L83.2 565.3L84.2 565.3L85.2 565.2L86.2 565.2L87.1 565.1L88.1 565.1L89.1 565L90.1 564.9L91.1 564.9L92.1 564.8L93.1 564.7L94.1 564.6L95.1 564.5L96.1 564.5L97.1 564.4L98.1 564.3L99.1 564.1L100.1 564L101.1 563.9L102.1 563.8L103.1 563.6L104 563.4L105 563.2L106 563L107 562.8L108 562.6L109 562.4L110 562.1L111 561.9L112 561.6L113 561.2L114 560.9L115 560.6L116 560.2L117 559.9L118 559.7L119 559.5L120 559.3L120.9 559.1L121.9 558.9L122.9 558.7L123.9 558.5L124.9 558.3L125.9 558.2L126.9 558L127.9 557.9L128.9 557.7L129.9 557.6L130.9 557.5L131.9 557.4L132.9 557.4L133.9 557.4L134.9 557.4L135.9 557.5L136.9 557.5L137.8 557.6L138.8 557.7L139.8 557.7L140.8 557.8L141.8 557.9L142.8 558L143.8 558L144.8 558.1L145.8 558.2L146.8 558.3L147.8 558.4L148.8 558.5L149.8 558.6L150.8 558.6L151.8 558.7L152.8 558.8L153.8 558.8L154.7 558.8L155.7 558.9L156.7 558.9L157.7 558.9L158.7 558.9L159.7 558.9L160.7 558.9L161.7 558.9L162.7 558.8L163.7 558.8L164.7 558.8L165.7 558.8L166.7 558.8L167.7 558.8L168.7 558.8L169.7 558.8L170.7 558.8L171.7 558.8L172.6 558.8L173.6 558.8L174.6 558.8L175.6 558.8L176.6 558.8L177.6 558.8L178.6 558.8L179.6 558.8L180.6 558.8L181.6 558.7L182.6 558.7L183.6 558.7L184.6 558.7L185.6 558.7L186.6 558.7L187.6 558.7L188.6 558.7L189.5 558.7L190.5 558.7L191.5 558.7L192.5 558.7L193.5 558.7L194.5 558.6L195.5 558.6L196.5 558.6L197.5 558.6L198.5 558.6L199.5 558.6L200.5 558.6L201.5 558.6L202.5 558.6L203.5 558.6L204.5 558.5L205.5 558.5L206.4 558.5L207.4 558.5L208.4 558.5L209.4 558.5L210.4 558.5L211.4 558.5L212.4 558.4L213.4 558.4L214.4 558.4L215.4 558.4L216.4 558.4L217.4 558.4L218.4 558.4L219.4 558.3L220.4 558.3L221.4 558.3L222.4 558.3L223.3 558.3L224.3 558.3L225.3 558.3L226.3 558.2L227.3 558.2L228.3 558.2L229.3 558.2L230.3 558.2L231.3 558.2L232.3 558.1L233.3 558.1L234.3 558.1L235.3 558.1L236.3 558.1L237.3 558.1L238.3 558.1L239.3 558L240.2 558L241.2 558L242.2 558L243.2 558L244.2 557.9L245.2 557.9L246.2 557.9L247.2 557.9L248.2 557.9L249.2 557.8L250.2 557.8L251.2 557.8L252.2 557.8L253.2 557.8L254.2 557.7L255.2 557.7L256.2 557.7L257.1 557.7L258.1 557.7L259.1 557.6L260.1 557.6L261.1 557.6L262.1 557.6L263.1 557.5L264.1 557.5L265.1 557.5L266.1 557.5L267.1 557.5L268.1 557.4L269.1 557.4L270.1 557.4L271.1 557.4L272.1 557.3L273.1 557.3L274 557.3L275 557.3L276 557.2L277 557.2L278 557.2L279 557.2L280 557.1L281 557.1L282 557.1" fill="none" stroke="#c080ff" stroke-width="1.45" stroke-dasharray="7.6 2.4 1.5 2.5" clip-path="url(#c5)" stroke-linejoin="round"/>
<path d="M44.4 566L45.4 566L46.4 566L47.4 566L48.4 566L49.4 566L50.4 566L51.4 566L52.4 565.9L53.3 565.9L54.3 565.9L55.3 565.9L56.3 565.9L57.3 565.9L58.3 565.9L59.3 565.8L60.3 565.8L61.3 565.8L62.3 565.8L63.3 565.7L64.3 565.7L65.3 565.7L66.3 565.7L67.3 565.6L68.3 565.6L69.3 565.6L70.2 565.6L71.2 565.5L72.2 565.5L73.2 565.5L74.2 565.5L75.2 565.4L76.2 565.4L77.2 565.4L78.2 565.3L79.2 565.3L80.2 565.3L81.2 565.2L82.2 565.2L83.2 565.1L84.2 565.1L85.2 565.1L86.2 565L87.1 564.9L88.1 564.9L89.1 564.8L90.1 564.8L91.1 564.7L92.1 564.6L93.1 564.6L94.1 564.5L95.1 564.4L96.1 564.3L97.1 564.2L98.1 564.1L99.1 564L100.1 563.9L101.1 563.7L102.1 563.5L103.1 563.4L104 563.2L105 563L106 562.7L107 562.5L108 562.3L109 562.1L110 561.8L111 561.6L112 561.2L113 560.9L114 560.6L115 560.3L116 560.1L117 559.9L118 559.7L119 559.5L120 559.4L120.9 559.2L121.9 559.1L122.9 559L123.9 558.9L124.9 558.9L125.9 558.9L126.9 558.9L127.9 558.9L128.9 558.9L129.9 558.9L130.9 559L131.9 559L132.9 559L133.9 559L134.9 559L135.9 559.1L136.9 559.1L137.8 559.1L138.8 559.1L139.8 559.1L140.8 559.2L141.8 559.2L142.8 559.2L143.8 559.2L144.8 559.2L145.8 559.2L146.8 559.2L147.8 559.2L148.8 559.1L149.8 559.1L150.8 559.1L151.8 559.1L152.8 559.1L153.8 559.1L154.7 559.1L155.7 559.1L156.7 559.1L157.7 559.1L158.7 559.1L159.7 559.1L160.7 559.1L161.7 559.1L162.7 559.1L163.7 559.1L164.7 559.1L165.7 559.1L166.7 559.1L167.7 559.1L168.7 559.1L169.7 559.1L170.7 559.1L171.7 559.1L172.6 559.1L173.6 559.1L174.6 559.1L175.6 559.1L176.6 559.1L177.6 559.1L178.6 559L179.6 559L180.6 559L181.6 559L182.6 559L183.6 559L184.6 559L185.6 559L186.6 559L187.6 559L188.6 559L189.5 559L190.5 559L191.5 559L192.5 559L193.5 559L194.5 558.9L195.5 558.9L196.5 558.9L197.5 558.9L198.5 558.9L199.5 558.9L200.5 558.9L201.5 558.9L202.5 558.8L203.5 558.8L204.5 558.8L205.5 558.8L206.4 558.8L207.4 558.8L208.4 558.8L209.4 558.7L210.4 558.7L211.4 558.7L212.4 558.7L213.4 558.7L214.4 558.6L215.4 558.6L216.4 558.6L217.4 558.6L218.4 558.6L219.4 558.6L220.4 558.5L221.4 558.5L222.4 558.5L223.3 558.5L224.3 558.5L225.3 558.4L226.3 558.4L227.3 558.4L228.3 558.4L229.3 558.4L230.3 558.3L231.3 558.3L232.3 558.3L233.3 558.3L234.3 558.3L235.3 558.2L236.3 558.2L237.3 558.2L238.3 558.2L239.3 558.2L240.2 558.2L241.2 558.1L242.2 558.1L243.2 558.1L244.2 558.1L245.2 558.1L246.2 558L247.2 558L248.2 558L249.2 558L250.2 558L251.2 557.9L252.2 557.9L253.2 557.9L254.2 557.9L255.2 557.8L256.2 557.8L257.1 557.8L258.1 557.8L259.1 557.8L260.1 557.7L261.1 557.7L262.1 557.7L263.1 557.7L264.1 557.7L265.1 557.6L266.1 557.6L267.1 557.6L268.1 557.6L269.1 557.5L270.1 557.5L271.1 557.5L272.1 557.5L273.1 557.4L274 557.4L275 557.4L276 557.4L277 557.3L278 557.3L279 557.3L280 557.3L281 557.2L282 557.2" fill="none" stroke="#ff00ff" stroke-width="1.6" stroke-dasharray="2.7 2.4 2.7 7.4" clip-path="url(#c5)" stroke-linejoin="round"/>
<path d="M339 565.9L389.4 565.4L397.6 565.2L403.3 564.9L406.2 564.6L408.4 564.3L410.3 563.9L411.9 563.4L413.1 562.8L413.8 562.5L414.4 562L415.3 561.2L416.3 560.1L416.9 559.1L417.2 558.5L417.9 557L418.5 555.1L419.2 552.4L419.8 548.6L420.1 546.2L420.4 543.2L420.7 539.5L421.1 535L421.4 529.4L421.7 522.5L422 513.9L422.6 490.9L423.3 463.9L423.6 453.8L423.9 449.9L424.2 453.8L424.5 463.9L425.2 491L425.8 513.9L426.1 522.5L426.4 529.5L426.8 535.1L427.1 539.6L427.4 543.3L427.7 546.2L428 548.7L428.7 552.5L429.3 555.1L429.9 557.1L430.2 557.9L430.9 559.2L431.5 560.2L432.1 561L432.8 561.6L433.4 562.2L434 562.6L435 563.1L435.9 563.5L437.2 564L438.5 564.3L439.7 564.6L441.3 564.8L443.2 565L447.3 565.3L452.1 565.5L459.1 565.7L467.9 565.7L478.1 565.7L486.3 565.6L492 565.4L496.4 565.2L499.6 564.8L500.9 564.6L502.2 564.2L503.1 563.9L504.1 563.5L505 562.9L505.6 562.4L506.6 561.4L507.2 560.5L507.9 559.2L508.5 557.6L509.1 555.2L509.4 553.7L509.8 551.8L510.1 549.5L510.4 546.7L510.7 543.2L511 538.9L511.3 533.5L512 518.9L512.6 500.9L512.9 493.5L513.2 490L513.3 489.9L513.6 491.6L513.9 497.6L514.8 523.8L515.1 531L515.5 536.9L515.8 541.6L516.1 545.4L516.4 548.5L516.7 551L517 553L517.7 556L518 557.2L518.6 559L519.3 560.3L519.6 560.8L520.2 561.6L520.8 562.3L521.8 563L522.7 563.6L524.3 564.3L525.9 564.9L527.5 565.3L528.8 565.6L530 565.6L531 565.6L532.2 565.4L536.7 564.4L541.4 563.7L544 563.3L547.1 562.9L553.5 562.4L561.4 561.8L569.6 561.2L576.6 560.9" fill="none" stroke="#000000" stroke-width="1.45" clip-path="url(#c6)" stroke-linejoin="miter" stroke-miterlimit="3"/>
<path d="M339 566L340 566L341 566L342 566L343 566L344 566L345 566L346 566L347 566L347.9 566L348.9 566L349.9 566L350.9 566L351.9 566L352.9 566L353.9 566L354.9 566L355.9 566L356.9 565.9L357.9 565.9L358.9 565.9L359.9 565.9L360.9 565.9L361.9 565.9L362.9 565.9L363.9 565.9L364.8 565.9L365.8 565.9L366.8 565.9L367.8 565.9L368.8 565.9L369.8 565.9L370.8 565.9L371.8 565.8L372.8 565.8L373.8 565.8L374.8 565.8L375.8 565.8L376.8 565.8L377.8 565.8L378.8 565.8L379.8 565.8L380.8 565.8L381.7 565.8L382.7 565.7L383.7 565.7L384.7 565.7L385.7 565.7L386.7 565.7L387.7 565.7L388.7 565.7L389.7 565.7L390.7 565.7L391.7 565.6L392.7 565.6L393.7 565.6L394.7 565.6L395.7 565.6L396.7 565.6L397.7 565.5L398.6 565.5L399.6 565.5L400.6 565.5L401.6 565.4L402.6 565.4L403.6 565.4L404.6 565.4L405.6 565.3L406.6 565.3L407.6 565.3L408.6 565.3L409.6 565.2L410.6 565.2L411.6 565.2L412.6 565.1L413.6 565.1L414.6 565L415.5 565L416.5 564.9L417.5 564.9L418.5 564.8L419.5 564.7L420.5 564.7L421.5 564.6L422.5 564.5L423.5 564.3L424.5 564.2L425.5 564.1L426.5 563.9L427.5 563.7L428.5 563.6L429.5 563.4L430.5 563.1L431.5 562.8L432.4 562.5L433.4 562.2L434.4 561.9L435.4 561.5L436.4 561.2L437.4 560.8L438.4 560.5L439.4 560.1L440.4 559.7L441.4 559.3L442.4 558.8L443.4 558.3L444.4 557.8L445.4 557.1L446.4 556.4L447.4 555.6L448.4 554.8L449.3 554.1L450.3 553.4L451.3 552.8L452.3 552.3L453.3 551.9L454.3 551.5L455.3 551.2L456.3 550.9L457.3 550.6L458.3 550.5L459.3 550.5L460.3 550.7L461.3 550.8L462.3 551.1L463.3 551.3L464.3 551.7L465.3 552.1L466.3 552.5L467.2 553L468.2 553.5L469.2 554.1L470.2 554.8L471.2 555.4L472.2 556L473.2 556.6L474.2 557.2L475.2 557.7L476.2 558.3L477.2 558.8L478.2 559.3L479.2 559.6L480.2 559.7L481.2 559.9L482.2 560L483.2 560.1L484.1 560.2L485.1 560.3L486.1 560.4L487.1 560.4L488.1 560.5L489.1 560.5L490.1 560.5L491.1 560.6L492.1 560.6L493.1 560.6L494.1 560.6L495.1 560.6L496.1 560.6L497.1 560.6L498.1 560.6L499.1 560.6L500.1 560.6L501 560.6L502 560.6L503 560.6L504 560.6L505 560.6L506 560.6L507 560.6L508 560.6L509 560.6L510 560.6L511 560.6L512 560.6L513 560.6L514 560.6L515 560.6L516 560.6L517 560.5L517.9 560.5L518.9 560.5L519.9 560.5L520.9 560.5L521.9 560.5L522.9 560.5L523.9 560.5L524.9 560.5L525.9 560.5L526.9 560.5L527.9 560.5L528.9 560.4L529.9 560.4L530.9 560.4L531.9 560.4L532.9 560.4L533.9 560.4L534.8 560.4L535.8 560.4L536.8 560.4L537.8 560.4L538.8 560.4L539.8 560.3L540.8 560.3L541.8 560.3L542.8 560.3L543.8 560.3L544.8 560.3L545.8 560.3L546.8 560.3L547.8 560.3L548.8 560.2L549.8 560.2L550.8 560.2L551.7 560.2L552.7 560.2L553.7 560.2L554.7 560.2L555.7 560.2L556.7 560.1L557.7 560.1L558.7 560.1L559.7 560.1L560.7 560.1L561.7 560.1L562.7 560.1L563.7 560L564.7 560L565.7 560L566.7 560L567.7 560L568.6 560L569.6 560L570.6 559.9L571.6 559.9L572.6 559.9L573.6 559.9L574.6 559.9L575.6 559.9L576.6 559.8" fill="none" stroke="#ff0000" stroke-width="1.55" stroke-dasharray="6 2.4" clip-path="url(#c6)" stroke-linejoin="round"/>
<path d="M339 566L340 566L341 566L342 566L343 566L344 566L345 566L346 566L347 566L347.9 566L348.9 566L349.9 566L350.9 566L351.9 566L352.9 566L353.9 566L354.9 565.9L355.9 565.9L356.9 565.9L357.9 565.9L358.9 565.9L359.9 565.9L360.9 565.9L361.9 565.9L362.9 565.9L363.9 565.9L364.8 565.9L365.8 565.9L366.8 565.9L367.8 565.8L368.8 565.8L369.8 565.8L370.8 565.8L371.8 565.8L372.8 565.8L373.8 565.8L374.8 565.8L375.8 565.7L376.8 565.7L377.8 565.7L378.8 565.7L379.8 565.7L380.8 565.7L381.7 565.7L382.7 565.7L383.7 565.6L384.7 565.6L385.7 565.6L386.7 565.6L387.7 565.6L388.7 565.6L389.7 565.5L390.7 565.5L391.7 565.5L392.7 565.5L393.7 565.5L394.7 565.4L395.7 565.4L396.7 565.4L397.7 565.3L398.6 565.3L399.6 565.3L400.6 565.2L401.6 565.2L402.6 565.1L403.6 565.1L404.6 565L405.6 565L406.6 564.9L407.6 564.9L408.6 564.8L409.6 564.8L410.6 564.7L411.6 564.6L412.6 564.5L413.6 564.4L414.6 564.2L415.5 564.1L416.5 563.9L417.5 563.8L418.5 563.6L419.5 563.4L420.5 563.2L421.5 563L422.5 562.8L423.5 562.5L424.5 562.3L425.5 562L426.5 561.7L427.5 561.4L428.5 561.1L429.5 560.8L430.5 560.4L431.5 560L432.4 559.5L433.4 559L434.4 558.5L435.4 558L436.4 557.5L437.4 557L438.4 556.5L439.4 555.9L440.4 555.5L441.4 555L442.4 554.6L443.4 554.2L444.4 553.9L445.4 553.6L446.4 553.6L447.4 553.8L448.4 554.1L449.3 554.5L450.3 554.9L451.3 555.4L452.3 555.8L453.3 556.2L454.3 556.7L455.3 557.2L456.3 557.7L457.3 558.1L458.3 558.4L459.3 558.7L460.3 558.9L461.3 559.1L462.3 559.3L463.3 559.4L464.3 559.5L465.3 559.6L466.3 559.7L467.2 559.8L468.2 559.9L469.2 559.9L470.2 560L471.2 560L472.2 560.1L473.2 560.1L474.2 560.1L475.2 560.1L476.2 560.1L477.2 560.1L478.2 560.1L479.2 560.1L480.2 560.2L481.2 560.2L482.2 560.2L483.2 560.2L484.1 560.2L485.1 560.2L486.1 560.2L487.1 560.2L488.1 560.2L489.1 560.2L490.1 560.2L491.1 560.2L492.1 560.2L493.1 560.2L494.1 560.2L495.1 560.2L496.1 560.2L497.1 560.2L498.1 560.2L499.1 560.2L500.1 560.2L501 560.2L502 560.2L503 560.2L504 560.2L505 560.2L506 560.2L507 560.2L508 560.2L509 560.2L510 560.2L511 560.2L512 560.2L513 560.2L514 560.2L515 560.2L516 560.2L517 560.1L517.9 560.1L518.9 560.1L519.9 560.1L520.9 560.1L521.9 560.1L522.9 560.1L523.9 560.1L524.9 560.1L525.9 560.1L526.9 560.1L527.9 560.1L528.9 560L529.9 560L530.9 560L531.9 560L532.9 560L533.9 560L534.8 560L535.8 560L536.8 560L537.8 560L538.8 560L539.8 560L540.8 560L541.8 560L542.8 559.9L543.8 559.9L544.8 559.9L545.8 559.9L546.8 559.9L547.8 559.9L548.8 559.9L549.8 559.9L550.8 559.9L551.7 559.9L552.7 559.9L553.7 559.9L554.7 559.8L555.7 559.8L556.7 559.8L557.7 559.8L558.7 559.8L559.7 559.8L560.7 559.8L561.7 559.8L562.7 559.8L563.7 559.8L564.7 559.8L565.7 559.8L566.7 559.7L567.7 559.7L568.6 559.7L569.6 559.7L570.6 559.7L571.6 559.7L572.6 559.7L573.6 559.7L574.6 559.7L575.6 559.7L576.6 559.7" fill="none" stroke="#008000" stroke-width="1.5" stroke-dasharray="3.0 3.4" clip-path="url(#c6)" stroke-linejoin="round"/>
<path d="M339 566L340 566L341 566L342 566L343 566L344 566L345 566L346 566L347 566L347.9 566L348.9 566L349.9 566L350.9 566L351.9 566L352.9 565.9L353.9 565.9L354.9 565.9L355.9 565.9L356.9 565.9L357.9 565.9L358.9 565.9L359.9 565.9L360.9 565.9L361.9 565.9L362.9 565.9L363.9 565.8L364.8 565.8L365.8 565.8L366.8 565.8L367.8 565.8L368.8 565.8L369.8 565.8L370.8 565.7L371.8 565.7L372.8 565.7L373.8 565.7L374.8 565.7L375.8 565.7L376.8 565.7L377.8 565.6L378.8 565.6L379.8 565.6L380.8 565.6L381.7 565.6L382.7 565.6L383.7 565.6L384.7 565.5L385.7 565.5L386.7 565.5L387.7 565.5L388.7 565.5L389.7 565.4L390.7 565.4L391.7 565.4L392.7 565.4L393.7 565.4L394.7 565.3L395.7 565.3L396.7 565.3L397.7 565.2L398.6 565.2L399.6 565.2L400.6 565.1L401.6 565.1L402.6 565L403.6 565L404.6 565L405.6 564.9L406.6 564.8L407.6 564.8L408.6 564.7L409.6 564.6L410.6 564.5L411.6 564.4L412.6 564.3L413.6 564.1L414.6 564L415.5 563.8L416.5 563.7L417.5 563.4L418.5 563.2L419.5 562.9L420.5 562.6L421.5 562.3L422.5 562L423.5 561.6L424.5 561.3L425.5 560.9L426.5 560.5L427.5 560.1L428.5 559.6L429.5 559.1L430.5 558.6L431.5 558.1L432.4 557.5L433.4 557L434.4 556.5L435.4 556.1L436.4 555.7L437.4 555.4L438.4 555L439.4 554.7L440.4 554.5L441.4 554.3L442.4 554.3L443.4 554.5L444.4 554.8L445.4 555.3L446.4 555.8L447.4 556.3L448.4 556.7L449.3 557.1L450.3 557.5L451.3 557.9L452.3 558.3L453.3 558.6L454.3 558.9L455.3 559.2L456.3 559.3L457.3 559.4L458.3 559.4L459.3 559.5L460.3 559.6L461.3 559.6L462.3 559.7L463.3 559.7L464.3 559.7L465.3 559.7L466.3 559.8L467.2 559.8L468.2 559.8L469.2 559.8L470.2 559.8L471.2 559.8L472.2 559.8L473.2 559.8L474.2 559.8L475.2 559.8L476.2 559.8L477.2 559.8L478.2 559.8L479.2 559.8L480.2 559.8L481.2 559.8L482.2 559.8L483.2 559.8L484.1 559.8L485.1 559.8L486.1 559.8L487.1 559.8L488.1 559.8L489.1 559.8L490.1 559.8L491.1 559.8L492.1 559.8L493.1 559.8L494.1 559.8L495.1 559.8L496.1 559.8L497.1 559.8L498.1 559.8L499.1 559.8L500.1 559.8L501 559.8L502 559.8L503 559.8L504 559.8L505 559.8L506 559.8L507 559.8L508 559.8L509 559.8L510 559.8L511 559.8L512 559.8L513 559.8L514 559.8L515 559.8L516 559.8L517 559.8L517.9 559.8L518.9 559.8L519.9 559.8L520.9 559.8L521.9 559.8L522.9 559.8L523.9 559.8L524.9 559.8L525.9 559.8L526.9 559.8L527.9 559.8L528.9 559.8L529.9 559.8L530.9 559.7L531.9 559.7L532.9 559.7L533.9 559.7L534.8 559.7L535.8 559.7L536.8 559.7L537.8 559.7L538.8 559.7L539.8 559.7L540.8 559.7L541.8 559.7L542.8 559.7L543.8 559.7L544.8 559.7L545.8 559.7L546.8 559.7L547.8 559.7L548.8 559.7L549.8 559.7L550.8 559.7L551.7 559.7L552.7 559.7L553.7 559.6L554.7 559.6L555.7 559.6L556.7 559.6L557.7 559.6L558.7 559.6L559.7 559.6L560.7 559.6L561.7 559.6L562.7 559.6L563.7 559.6L564.7 559.6L565.7 559.6L566.7 559.5L567.7 559.5L568.6 559.5L569.6 559.5L570.6 559.5L571.6 559.5L572.6 559.5L573.6 559.5L574.6 559.5L575.6 559.5L576.6 559.5" fill="none" stroke="#0000ff" stroke-width="1.6" stroke-dasharray="1.5 1.85" clip-path="url(#c6)" stroke-linejoin="round"/>
<path d="M339 566L340 566L341 566L342 566L343 566L344 566L345 566L346 566L347 566L347.9 566L348.9 566L349.9 566L350.9 566L351.9 566L352.9 565.9L353.9 565.9L354.9 565.9L355.9 565.9L356.9 565.9L357.9 565.9L358.9 565.9L359.9 565.9L360.9 565.9L361.9 565.9L362.9 565.8L363.9 565.8L364.8 565.8L365.8 565.8L366.8 565.8L367.8 565.8L368.8 565.8L369.8 565.8L370.8 565.7L371.8 565.7L372.8 565.7L373.8 565.7L374.8 565.7L375.8 565.7L376.8 565.6L377.8 565.6L378.8 565.6L379.8 565.6L380.8 565.6L381.7 565.5L382.7 565.5L383.7 565.5L384.7 565.4L385.7 565.4L386.7 565.3L387.7 565.3L388.7 565.2L389.7 565.1L390.7 565.1L391.7 565L392.7 564.9L393.7 564.9L394.7 564.8L395.7 564.7L396.7 564.6L397.7 564.5L398.6 564.3L399.6 564.2L400.6 564L401.6 563.8L402.6 563.7L403.6 563.5L404.6 563.3L405.6 563.1L406.6 562.9L407.6 562.6L408.6 562.4L409.6 562.1L410.6 561.9L411.6 561.6L412.6 561.4L413.6 561.1L414.6 560.9L415.5 560.6L416.5 560.4L417.5 560.1L418.5 559.9L419.5 559.7L420.5 559.4L421.5 559.2L422.5 559L423.5 558.8L424.5 558.6L425.5 558.4L426.5 558.3L427.5 558.2L428.5 558.2L429.5 558.2L430.5 558.2L431.5 558.3L432.4 558.4L433.4 558.5L434.4 558.6L435.4 558.6L436.4 558.7L437.4 558.9L438.4 559L439.4 559.2L440.4 559.3L441.4 559.5L442.4 559.6L443.4 559.6L444.4 559.7L445.4 559.7L446.4 559.7L447.4 559.8L448.4 559.8L449.3 559.8L450.3 559.9L451.3 559.9L452.3 559.9L453.3 559.9L454.3 559.9L455.3 560L456.3 560L457.3 560L458.3 560L459.3 560L460.3 560L461.3 560L462.3 560L463.3 560L464.3 560L465.3 560L466.3 560L467.2 560L468.2 560L469.2 560L470.2 560L471.2 560L472.2 560L473.2 560L474.2 560L475.2 560L476.2 560L477.2 560L478.2 560L479.2 560L480.2 560L481.2 560L482.2 560L483.2 560L484.1 560L485.1 560L486.1 560L487.1 560L488.1 560L489.1 560L490.1 560L491.1 560L492.1 560L493.1 560L494.1 560L495.1 560L496.1 560L497.1 560L498.1 560L499.1 560L500.1 560L501 560L502 560L503 560L504 560L505 559.9L506 559.9L507 559.9L508 559.9L509 559.9L510 559.9L511 559.9L512 559.9L513 559.9L514 559.9L515 559.9L516 559.9L517 559.9L517.9 559.9L518.9 559.9L519.9 559.9L520.9 559.9L521.9 559.9L522.9 559.9L523.9 559.9L524.9 559.9L525.9 559.9L526.9 559.9L527.9 559.9L528.9 559.9L529.9 559.8L530.9 559.8L531.9 559.8L532.9 559.8L533.9 559.8L534.8 559.8L535.8 559.8L536.8 559.8L537.8 559.8L538.8 559.8L539.8 559.8L540.8 559.8L541.8 559.8L542.8 559.8L543.8 559.8L544.8 559.8L545.8 559.8L546.8 559.8L547.8 559.8L548.8 559.8L549.8 559.8L550.8 559.8L551.7 559.8L552.7 559.8L553.7 559.8L554.7 559.7L555.7 559.7L556.7 559.7L557.7 559.7L558.7 559.7L559.7 559.7L560.7 559.7L561.7 559.7L562.7 559.7L563.7 559.7L564.7 559.7L565.7 559.7L566.7 559.7L567.7 559.7L568.6 559.7L569.6 559.7L570.6 559.7L571.6 559.7L572.6 559.7L573.6 559.7L574.6 559.7L575.6 559.7L576.6 559.7" fill="none" stroke="#c080ff" stroke-width="1.45" stroke-dasharray="7.6 2.4 1.5 2.5" clip-path="url(#c6)" stroke-linejoin="round"/>
<path d="M339 566L340 566L341 566L342 566L343 566L344 566L345 566L346 566L347 566L347.9 566L348.9 566L349.9 566L350.9 566L351.9 565.9L352.9 565.9L353.9 565.9L354.9 565.9L355.9 565.9L356.9 565.9L357.9 565.9L358.9 565.9L359.9 565.9L360.9 565.8L361.9 565.8L362.9 565.8L363.9 565.8L364.8 565.8L365.8 565.8L366.8 565.8L367.8 565.7L368.8 565.7L369.8 565.7L370.8 565.7L371.8 565.7L372.8 565.7L373.8 565.6L374.8 565.6L375.8 565.6L376.8 565.5L377.8 565.5L378.8 565.4L379.8 565.4L380.8 565.3L381.7 565.3L382.7 565.2L383.7 565.2L384.7 565.1L385.7 565.1L386.7 565L387.7 564.9L388.7 564.8L389.7 564.7L390.7 564.6L391.7 564.5L392.7 564.4L393.7 564.3L394.7 564.1L395.7 564L396.7 563.8L397.7 563.6L398.6 563.5L399.6 563.3L400.6 563.1L401.6 562.9L402.6 562.7L403.6 562.5L404.6 562.3L405.6 562.1L406.6 561.9L407.6 561.7L408.6 561.5L409.6 561.2L410.6 561L411.6 560.7L412.6 560.5L413.6 560.2L414.6 560L415.5 559.9L416.5 559.9L417.5 559.9L418.5 559.9L419.5 560L420.5 560L421.5 560.1L422.5 560.1L423.5 560.1L424.5 560.2L425.5 560.2L426.5 560.3L427.5 560.3L428.5 560.4L429.5 560.4L430.5 560.5L431.5 560.5L432.4 560.5L433.4 560.5L434.4 560.5L435.4 560.5L436.4 560.5L437.4 560.5L438.4 560.5L439.4 560.5L440.4 560.5L441.4 560.5L442.4 560.5L443.4 560.5L444.4 560.5L445.4 560.5L446.4 560.5L447.4 560.5L448.4 560.5L449.3 560.5L450.3 560.5L451.3 560.5L452.3 560.5L453.3 560.5L454.3 560.5L455.3 560.5L456.3 560.5L457.3 560.5L458.3 560.5L459.3 560.5L460.3 560.5L461.3 560.5L462.3 560.5L463.3 560.5L464.3 560.5L465.3 560.5L466.3 560.5L467.2 560.5L468.2 560.5L469.2 560.5L470.2 560.5L471.2 560.5L472.2 560.5L473.2 560.5L474.2 560.5L475.2 560.5L476.2 560.5L477.2 560.5L478.2 560.5L479.2 560.5L480.2 560.4L481.2 560.4L482.2 560.4L483.2 560.4L484.1 560.4L485.1 560.4L486.1 560.4L487.1 560.4L488.1 560.4L489.1 560.4L490.1 560.4L491.1 560.4L492.1 560.4L493.1 560.4L494.1 560.4L495.1 560.4L496.1 560.4L497.1 560.3L498.1 560.3L499.1 560.3L500.1 560.3L501 560.3L502 560.3L503 560.3L504 560.3L505 560.3L506 560.3L507 560.2L508 560.2L509 560.2L510 560.2L511 560.2L512 560.2L513 560.2L514 560.2L515 560.2L516 560.2L517 560.1L517.9 560.1L518.9 560.1L519.9 560.1L520.9 560.1L521.9 560.1L522.9 560.1L523.9 560.1L524.9 560.1L525.9 560.1L526.9 560.1L527.9 560.1L528.9 560L529.9 560L530.9 560L531.9 560L532.9 560L533.9 560L534.8 560L535.8 560L536.8 560L537.8 560L538.8 560L539.8 560L540.8 560L541.8 560L542.8 560L543.8 560L544.8 560L545.8 560L546.8 560L547.8 560L548.8 559.9L549.8 559.9L550.8 559.9L551.7 559.9L552.7 559.9L553.7 559.9L554.7 559.9L555.7 559.9L556.7 559.9L557.7 559.9L558.7 559.9L559.7 559.9L560.7 559.9L561.7 559.9L562.7 559.9L563.7 559.9L564.7 559.9L565.7 559.9L566.7 559.9L567.7 559.9L568.6 559.9L569.6 559.9L570.6 559.9L571.6 559.9L572.6 559.9L573.6 559.9L574.6 559.9L575.6 559.9L576.6 559.8" fill="none" stroke="#ff00ff" stroke-width="1.6" stroke-dasharray="2.7 2.4 2.7 7.4" clip-path="url(#c6)" stroke-linejoin="round"/>
<path d="M52 669.4L282 669.4" fill="none" stroke="#000000" stroke-width="1.45" clip-path="url(#c7)" stroke-linejoin="miter" stroke-miterlimit="3"/>
<path d="M52 669.4L53.2 669.1L54.4 668.7L55.6 668.2L56.8 667.8L58 667.4L59.2 667L60.3 666.5L61.5 666.1L62.7 665.6L63.9 665.1L65.1 664.6L66.3 664.1L67.5 663.5L68.7 663L69.9 662.5L71.1 662L72.3 661.5L73.5 661L74.6 660.5L75.8 660.1L77 659.7L78.2 659.2L79.4 658.8L80.6 658.4L81.8 658L83 657.6L84.2 657.2L85.4 656.9L86.6 656.5L87.8 656.2L89 656L90.1 655.7L91.3 655.4L92.5 655.2L93.7 654.9L94.9 654.7L96.1 654.4L97.3 654.2L98.5 654L99.7 653.8L100.9 653.6L102.1 653.5L103.3 653.4L104.4 653.3L105.6 653.2L106.8 653.2L108 653.2L109.2 653.3L110.4 653.3L111.6 653.4L112.8 653.5L114 653.6L115.2 653.7L116.4 653.9L117.6 654L118.7 654.2L119.9 654.3L121.1 654.5L122.3 654.6L123.5 654.8L124.7 655L125.9 655.1L127.1 655.3L128.3 655.5L129.5 655.7L130.7 656L131.9 656.2L133.1 656.5L134.2 656.8L135.4 657.1L136.6 657.4L137.8 657.8L139 658.1L140.2 658.4L141.4 658.8L142.6 659.1L143.8 659.4L145 659.8L146.2 660.1L147.4 660.4L148.5 660.7L149.7 661L150.9 661.3L152.1 661.6L153.3 661.9L154.5 662.2L155.7 662.5L156.9 662.7L158.1 663L159.3 663.3L160.5 663.6L161.7 663.8L162.9 664.1L164 664.4L165.2 664.7L166.4 664.9L167.6 665.2L168.8 665.5L170 665.8L171.2 666.1L172.4 666.4L173.6 666.7L174.8 667L176 667.3L177.2 667.6L178.3 668L179.5 668.3L180.7 668.6L181.9 669L183.1 669.4L184.3 669.7L185.5 670.2L186.7 670.6L187.9 671L189.1 671.5L190.3 672L191.5 672.5L192.7 673L193.8 673.5L195 674.1L196.2 674.6L197.4 675.1L198.6 675.6L199.8 676.2L201 676.7L202.2 677.2L203.4 677.7L204.6 678.2L205.8 678.7L207 679.1L208.1 679.6L209.3 680L210.5 680.4L211.7 680.9L212.9 681.3L214.1 681.7L215.3 682.1L216.5 682.5L217.7 682.9L218.9 683.3L220.1 683.7L221.3 684.1L222.4 684.4L223.6 684.8L224.8 685.1L226 685.5L227.2 685.8L228.4 686.1L229.6 686.4L230.8 686.7L232 686.9L233.2 687.2L234.4 687.5L235.6 687.8L236.8 688L237.9 688.2L239.1 688.5L240.3 688.7L241.5 688.9" fill="none" stroke="#ff0000" stroke-width="1.55" stroke-dasharray="6 2.4" stroke-dashoffset="1.77" clip-path="url(#c7)" stroke-linejoin="round"/>
<path d="M52 669.4L53 669.1L54.1 668.7L55.1 668.4L56.2 668L57.2 667.7L58.3 667.3L59.3 666.9L60.4 666.5L61.4 666.1L62.5 665.7L63.5 665.3L64.6 664.8L65.6 664.4L66.7 663.9L67.7 663.4L68.8 663L69.8 662.5L70.9 662.1L71.9 661.6L72.9 661.2L74 660.8L75 660.4L76.1 660L77.1 659.6L78.2 659.2L79.2 658.9L80.3 658.5L81.3 658.1L82.4 657.8L83.4 657.4L84.5 657.1L85.5 656.8L86.6 656.5L87.6 656.3L88.7 656L89.7 655.8L90.7 655.6L91.8 655.4L92.8 655.2L93.9 655L94.9 654.8L96 654.6L97 654.5L98.1 654.3L99.1 654.1L100.2 654L101.2 653.8L102.3 653.7L103.3 653.6L104.4 653.5L105.4 653.4L106.5 653.3L107.5 653.3L108.6 653.2L109.6 653.2L110.6 653.2L111.7 653.3L112.7 653.3L113.8 653.4L114.8 653.5L115.9 653.6L116.9 653.7L118 653.9L119 654L120.1 654.2L121.1 654.4L122.2 654.5L123.2 654.7L124.3 654.9L125.3 655.1L126.4 655.3L127.4 655.5L128.5 655.7L129.5 655.9L130.5 656.1L131.6 656.3L132.6 656.5L133.7 656.7L134.7 657L135.8 657.2L136.8 657.5L137.9 657.8L138.9 658.1L140 658.4L141 658.7L142.1 659L143.1 659.3L144.2 659.6L145.2 659.9L146.3 660.1L147.3 660.4L148.4 660.7L149.4 661L150.4 661.2L151.5 661.5L152.5 661.7L153.6 661.9L154.6 662.2L155.7 662.4L156.7 662.6L157.8 662.8L158.8 663L159.9 663.2L160.9 663.5L162 663.7L163 663.9L164.1 664.1L165.1 664.3L166.2 664.5L167.2 664.7L168.2 664.9L169.3 665.1L170.3 665.3L171.4 665.5L172.4 665.7L173.5 665.9L174.5 666.2L175.6 666.4L176.6 666.6L177.7 666.8L178.7 667L179.8 667.3L180.8 667.5L181.9 667.7L182.9 668L184 668.2L185 668.5L186.1 668.8L187.1 669L188.1 669.3L189.2 669.6L190.2 669.9L191.3 670.2L192.3 670.6L193.4 670.9L194.4 671.3L195.5 671.7L196.5 672.1L197.6 672.5L198.6 672.8L199.7 673.2L200.7 673.6L201.8 673.9L202.8 674.2L203.9 674.6L204.9 674.9L206 675.1L207 675.4L208 675.7L209.1 676L210.1 676.3L211.2 676.5L212.2 676.8L213.3 677.1L214.3 677.3L215.4 677.6L216.4 677.8L217.5 678L218.5 678.2" fill="none" stroke="#008000" stroke-width="1.5" stroke-dasharray="3.0 3.4" stroke-dashoffset="3.57" clip-path="url(#c7)" stroke-linejoin="round"/>
<path d="M52 669.4L53 669.1L53.9 668.8L54.9 668.5L55.8 668.2L56.8 667.8L57.7 667.5L58.7 667.1L59.6 666.8L60.6 666.4L61.5 666.1L62.5 665.7L63.5 665.3L64.4 664.9L65.4 664.5L66.3 664.1L67.3 663.6L68.2 663.2L69.2 662.8L70.1 662.4L71.1 662L72 661.6L73 661.2L74 660.8L74.9 660.4L75.9 660.1L76.8 659.7L77.8 659.4L78.7 659L79.7 658.7L80.6 658.3L81.6 658L82.6 657.7L83.5 657.4L84.5 657.1L85.4 656.8L86.4 656.5L87.3 656.3L88.3 656.1L89.2 655.9L90.2 655.7L91.1 655.6L92.1 655.4L93.1 655.2L94 655L95 654.9L95.9 654.7L96.9 654.6L97.8 654.5L98.8 654.4L99.7 654.3L100.7 654.2L101.6 654.2L102.6 654.1L103.6 654.2L104.5 654.2L105.5 654.2L106.4 654.3L107.4 654.3L108.3 654.4L109.3 654.5L110.2 654.6L111.2 654.7L112.1 654.8L113.1 654.9L114.1 655L115 655.2L116 655.3L116.9 655.4L117.9 655.6L118.8 655.7L119.8 655.8L120.7 656L121.7 656.1L122.6 656.3L123.6 656.4L124.6 656.6L125.5 656.9L126.5 657.1L127.4 657.3L128.4 657.6L129.3 657.8L130.3 658.1L131.2 658.4L132.2 658.7L133.2 659L134.1 659.3L135.1 659.6L136 659.9L137 660.2L137.9 660.5L138.9 660.8L139.8 661.1L140.8 661.4L141.7 661.7L142.7 662L143.7 662.3L144.6 662.5L145.6 662.8L146.5 663.1L147.5 663.3L148.4 663.5L149.4 663.8L150.3 664L151.3 664.1L152.2 664.3L153.2 664.5L154.2 664.7L155.1 664.8L156.1 665L157 665.2L158 665.3L158.9 665.5L159.9 665.6L160.8 665.7L161.8 665.9L162.7 666L163.7 666.2L164.7 666.3L165.6 666.4L166.6 666.6L167.5 666.7L168.5 666.8L169.4 667L170.4 667.1L171.3 667.3L172.3 667.4L173.2 667.5L174.2 667.7L175.2 667.9L176.1 668L177.1 668.2L178 668.3L179 668.5L179.9 668.7L180.9 668.9L181.8 669.1L182.8 669.3L183.8 669.5L184.7 669.8L185.7 670L186.6 670.3L187.6 670.6L188.5 671L189.5 671.3L190.4 671.6L191.4 671.9L192.3 672.2L193.3 672.5L194.3 672.8L195.2 673.1L196.2 673.3L197.1 673.6L198.1 673.8L199 674.1L200 674.3L200.9 674.6L201.9 674.8L202.8 675L203.8 675.2" fill="none" stroke="#0000ff" stroke-width="1.6" stroke-dasharray="1.5 1.85" stroke-dashoffset="2.1" clip-path="url(#c7)" stroke-linejoin="round"/>
<path d="M52 669.4L52.8 669.2L53.6 668.9L54.5 668.6L55.3 668.3L56.1 668.1L56.9 667.8L57.8 667.5L58.6 667.2L59.4 666.9L60.2 666.6L61.1 666.2L61.9 665.9L62.7 665.6L63.5 665.3L64.4 664.9L65.2 664.5L66 664.2L66.8 663.8L67.7 663.4L68.5 663.1L69.3 662.7L70.1 662.3L71 662L71.8 661.6L72.6 661.3L73.4 661L74.3 660.7L75.1 660.4L75.9 660.1L76.7 659.8L77.6 659.5L78.4 659.2L79.2 658.9L80 658.6L80.9 658.4L81.7 658.1L82.5 657.8L83.3 657.6L84.2 657.3L85 657.1L85.8 656.9L86.6 656.7L87.5 656.5L88.3 656.3L89.1 656.2L89.9 656L90.8 655.9L91.6 655.8L92.4 655.6L93.2 655.5L94.1 655.4L94.9 655.3L95.7 655.1L96.5 655.1L97.3 655L98.2 654.9L99 654.9L99.8 654.8L100.6 654.8L101.5 654.9L102.3 654.9L103.1 654.9L103.9 655L104.8 655L105.6 655.1L106.4 655.2L107.2 655.3L108.1 655.3L108.9 655.5L109.7 655.6L110.5 655.7L111.4 655.8L112.2 655.9L113 656L113.8 656.2L114.7 656.3L115.5 656.5L116.3 656.6L117.1 656.7L118 656.9L118.8 657L119.6 657.2L120.4 657.3L121.3 657.4L122.1 657.6L122.9 657.7L123.7 657.9L124.6 658.1L125.4 658.3L126.2 658.5L127 658.7L127.9 658.9L128.7 659.2L129.5 659.4L130.3 659.6L131.2 659.9L132 660.1L132.8 660.4L133.6 660.6L134.5 660.9L135.3 661.1L136.1 661.4L136.9 661.7L137.8 661.9L138.6 662.2L139.4 662.4L140.2 662.7L141 663L141.9 663.2L142.7 663.4L143.5 663.7L144.3 663.9L145.2 664.1L146 664.4L146.8 664.6L147.6 664.8L148.5 665L149.3 665.1L150.1 665.3L150.9 665.5L151.8 665.6L152.6 665.8L153.4 665.9L154.2 666.1L155.1 666.2L155.9 666.4L156.7 666.5L157.5 666.7L158.4 666.8L159.2 667L160 667.1L160.8 667.2L161.7 667.4L162.5 667.5L163.3 667.6L164.1 667.7L165 667.9L165.8 668L166.6 668.1L167.4 668.2L168.3 668.3L169.1 668.4L169.9 668.5L170.7 668.6L171.6 668.7L172.4 668.8L173.2 668.9L174 669L174.9 669.1L175.7 669.2L176.5 669.3L177.3 669.4L178.2 669.5L179 669.5L179.8 669.6L180.6 669.7L181.5 669.8L182.3 669.8L183.1 669.9" fill="none" stroke="#c080ff" stroke-width="1.45" stroke-dasharray="7.6 2.4 1.5 2.5" stroke-dashoffset="12.44" clip-path="url(#c7)" stroke-linejoin="round"/>
<path d="M52 669.4L52.7 669.2L53.4 669L54.1 668.7L54.8 668.5L55.5 668.3L56.3 668L57 667.8L57.7 667.5L58.4 667.2L59.1 667L59.8 666.7L60.5 666.5L61.2 666.2L61.9 665.9L62.6 665.6L63.3 665.3L64 665.1L64.8 664.8L65.5 664.4L66.2 664.1L66.9 663.8L67.6 663.5L68.3 663.2L69 662.9L69.7 662.6L70.4 662.3L71.1 662L71.8 661.7L72.6 661.4L73.3 661.1L74 660.8L74.7 660.5L75.4 660.3L76.1 660L76.8 659.7L77.5 659.4L78.2 659.1L78.9 658.9L79.6 658.6L80.4 658.3L81.1 658L81.8 657.8L82.5 657.5L83.2 657.3L83.9 657.1L84.6 656.9L85.3 656.7L86 656.6L86.7 656.4L87.4 656.3L88.1 656.2L88.9 656L89.6 655.9L90.3 655.8L91 655.7L91.7 655.6L92.4 655.5L93.1 655.4L93.8 655.3L94.5 655.2L95.2 655.2L95.9 655.1L96.7 655.1L97.4 655.1L98.1 655.1L98.8 655.1L99.5 655.1L100.2 655.1L100.9 655.2L101.6 655.2L102.3 655.3L103 655.3L103.7 655.4L104.5 655.5L105.2 655.6L105.9 655.6L106.6 655.7L107.3 655.8L108 655.9L108.7 656.1L109.4 656.2L110.1 656.3L110.8 656.4L111.5 656.5L112.2 656.7L113 656.8L113.7 656.9L114.4 657.1L115.1 657.2L115.8 657.3L116.5 657.5L117.2 657.6L117.9 657.7L118.6 657.9L119.3 658L120 658.1L120.8 658.3L121.5 658.4L122.2 658.5L122.9 658.7L123.6 658.8L124.3 659L125 659.1L125.7 659.3L126.4 659.4L127.1 659.6L127.8 659.8L128.6 659.9L129.3 660.1L130 660.3L130.7 660.5L131.4 660.7L132.1 660.8L132.8 661L133.5 661.2L134.2 661.4L134.9 661.6L135.6 661.8L136.3 662L137.1 662.1L137.8 662.3L138.5 662.5L139.2 662.7L139.9 662.9L140.6 663.1L141.3 663.2L142 663.4L142.7 663.6L143.4 663.7L144.1 663.9L144.9 664.1L145.6 664.2L146.3 664.4L147 664.6L147.7 664.7L148.4 664.9L149.1 665.1L149.8 665.2L150.5 665.4L151.2 665.5L151.9 665.7L152.7 665.9L153.4 666L154.1 666.2L154.8 666.3L155.5 666.5L156.2 666.7L156.9 666.8L157.6 667L158.3 667.1L159 667.3L159.7 667.4L160.4 667.6L161.2 667.7L161.9 667.9L162.6 668.1L163.3 668.2L164 668.4L164.7 668.5" fill="none" stroke="#ff00ff" stroke-width="1.6" stroke-dasharray="2.7 2.4 2.7 7.4" stroke-dashoffset="12.76" clip-path="url(#c7)" stroke-linejoin="round"/>
<path d="M346.5 669.4L576.6 669.4" fill="none" stroke="#000000" stroke-width="1.45" clip-path="url(#c8)" stroke-linejoin="miter" stroke-miterlimit="3"/>
<path d="M346.5 669.4L347.7 669.2L348.9 669L350 668.8L351.2 668.6L352.4 668.3L353.6 668.1L354.8 667.8L356 667.5L357.1 667.2L358.3 666.9L359.5 666.6L360.7 666.3L361.9 666L363.1 665.6L364.2 665.3L365.4 665L366.6 664.6L367.8 664.3L369 664L370.2 663.7L371.3 663.4L372.5 663.1L373.7 662.8L374.9 662.6L376.1 662.3L377.3 662L378.4 661.7L379.6 661.5L380.8 661.3L382 661.1L383.2 660.9L384.4 660.7L385.5 660.6L386.7 660.4L387.9 660.2L389.1 660.1L390.3 659.9L391.5 659.8L392.6 659.6L393.8 659.5L395 659.4L396.2 659.3L397.4 659.3L398.5 659.3L399.7 659.2L400.9 659.3L402.1 659.3L403.3 659.4L404.5 659.4L405.6 659.5L406.8 659.6L408 659.7L409.2 659.8L410.4 659.9L411.6 660.1L412.7 660.2L413.9 660.4L415.1 660.5L416.3 660.6L417.5 660.8L418.7 660.9L419.8 661.1L421 661.2L422.2 661.3L423.4 661.5L424.6 661.6L425.8 661.8L426.9 661.9L428.1 662.1L429.3 662.3L430.5 662.5L431.7 662.6L432.9 662.8L434 663L435.2 663.2L436.4 663.4L437.6 663.6L438.8 663.8L440 664L441.1 664.3L442.3 664.5L443.5 664.7L444.7 665L445.9 665.2L447 665.5L448.2 665.8L449.4 666.2L450.6 666.5L451.8 666.9L453 667.2L454.1 667.6L455.3 668L456.5 668.4L457.7 668.7L458.9 669.1L460.1 669.4L461.2 669.7L462.4 670.1L463.6 670.4L464.8 670.7L466 671L467.2 671.3L468.3 671.6L469.5 671.9L470.7 672.2L471.9 672.5L473.1 672.8L474.3 673.1L475.4 673.4L476.6 673.7L477.8 674L479 674.3L480.2 674.6L481.4 674.9L482.5 675.2L483.7 675.5L484.9 675.8L486.1 676.1L487.3 676.4L488.4 676.7L489.6 677L490.8 677.3L492 677.6L493.2 677.9L494.4 678.2L495.5 678.5L496.7 678.8L497.9 679.1L499.1 679.4L500.3 679.7L501.5 680L502.6 680.3L503.8 680.6L505 680.9L506.2 681.2L507.4 681.5L508.6 681.8L509.7 682.1L510.9 682.4L512.1 682.7L513.3 683L514.5 683.3L515.7 683.6L516.8 683.9L518 684.2L519.2 684.5L520.4 684.7L521.6 685L522.8 685.3L523.9 685.5L525.1 685.8L526.3 686.1L527.5 686.3L528.7 686.6L529.9 686.8L531 687L532.2 687.3L533.4 687.5L534.6 687.7" fill="none" stroke="#ff0000" stroke-width="1.55" stroke-dasharray="6 2.4" stroke-dashoffset="6.74" clip-path="url(#c8)" stroke-linejoin="round"/>
<path d="M346.5 669.4L347.6 669.1L348.6 668.8L349.7 668.5L350.7 668.2L351.8 667.9L352.9 667.5L353.9 667.2L355 666.9L356.1 666.5L357.1 666.2L358.2 665.8L359.2 665.5L360.3 665.1L361.4 664.7L362.4 664.3L363.5 664L364.6 663.6L365.6 663.2L366.7 662.9L367.7 662.5L368.8 662.2L369.9 661.9L370.9 661.6L372 661.3L373.1 661L374.1 660.8L375.2 660.5L376.2 660.2L377.3 659.9L378.4 659.7L379.4 659.5L380.5 659.2L381.6 659.1L382.6 658.9L383.7 658.7L384.7 658.6L385.8 658.5L386.9 658.3L387.9 658.2L389 658.1L390.1 657.9L391.1 657.8L392.2 657.8L393.2 657.7L394.3 657.6L395.4 657.6L396.4 657.6L397.5 657.6L398.5 657.7L399.6 657.7L400.7 657.7L401.7 657.8L402.8 657.8L403.9 657.9L404.9 658L406 658L407 658.1L408.1 658.2L409.2 658.3L410.2 658.4L411.3 658.4L412.4 658.5L413.4 658.6L414.5 658.7L415.5 658.8L416.6 658.9L417.7 659L418.7 659.1L419.8 659.2L420.9 659.3L421.9 659.4L423 659.6L424 659.7L425.1 659.9L426.2 660L427.2 660.2L428.3 660.3L429.4 660.5L430.4 660.6L431.5 660.8L432.5 661L433.6 661.1L434.7 661.3L435.7 661.5L436.8 661.7L437.9 661.8L438.9 662L440 662.2L441 662.3L442.1 662.5L443.2 662.7L444.2 662.8L445.3 663L446.3 663.2L447.4 663.3L448.5 663.5L449.5 663.6L450.6 663.8L451.7 664L452.7 664.1L453.8 664.3L454.8 664.5L455.9 664.6L457 664.8L458 665L459.1 665.1L460.2 665.3L461.2 665.5L462.3 665.6L463.3 665.8L464.4 666L465.5 666.2L466.5 666.3L467.6 666.5L468.7 666.7L469.7 666.9L470.8 667L471.8 667.2L472.9 667.4L474 667.6L475 667.8L476.1 667.9L477.2 668.1L478.2 668.3L479.3 668.5L480.3 668.7L481.4 668.9L482.5 669.1L483.5 669.3L484.6 669.4L485.7 669.6L486.7 669.9L487.8 670.1L488.8 670.3L489.9 670.5L491 670.7L492 671L493.1 671.2L494.1 671.4L495.2 671.6L496.3 671.9L497.3 672.1L498.4 672.3L499.5 672.5L500.5 672.7L501.6 672.9L502.6 673.1L503.7 673.3L504.8 673.5L505.8 673.6L506.9 673.8L508 674L509 674.1L510.1 674.3L511.1 674.4L512.2 674.6L513.3 674.7L514.3 674.9L515.4 675" fill="none" stroke="#008000" stroke-width="1.5" stroke-dasharray="3.0 3.4" stroke-dashoffset="3.9" clip-path="url(#c8)" stroke-linejoin="round"/>
<path d="M346.5 669.4L347.5 669.2L348.4 668.9L349.4 668.6L350.3 668.3L351.3 668L352.2 667.7L353.2 667.4L354.1 667.2L355.1 666.9L356.1 666.6L357 666.2L358 665.9L358.9 665.6L359.9 665.2L360.8 664.9L361.8 664.6L362.7 664.2L363.7 663.9L364.6 663.6L365.6 663.2L366.6 662.9L367.5 662.6L368.5 662.3L369.4 662.1L370.4 661.8L371.3 661.5L372.3 661.3L373.2 661L374.2 660.7L375.2 660.5L376.1 660.2L377.1 660L378 659.8L379 659.5L379.9 659.3L380.9 659.2L381.8 659L382.8 658.9L383.8 658.7L384.7 658.6L385.7 658.5L386.6 658.4L387.6 658.3L388.5 658.2L389.5 658.1L390.4 658L391.4 657.9L392.3 657.8L393.3 657.8L394.3 657.8L395.2 657.7L396.2 657.7L397.1 657.8L398.1 657.8L399 657.8L400 657.9L400.9 657.9L401.9 658L402.9 658L403.8 658.1L404.8 658.2L405.7 658.3L406.7 658.3L407.6 658.4L408.6 658.5L409.5 658.6L410.5 658.7L411.4 658.8L412.4 658.9L413.4 659L414.3 659.1L415.3 659.2L416.2 659.3L417.2 659.4L418.1 659.5L419.1 659.6L420 659.7L421 659.9L422 660L422.9 660.1L423.9 660.2L424.8 660.3L425.8 660.5L426.7 660.6L427.7 660.7L428.6 660.9L429.6 661L430.6 661.2L431.5 661.3L432.5 661.5L433.4 661.6L434.4 661.8L435.3 661.9L436.3 662.1L437.2 662.2L438.2 662.4L439.1 662.5L440.1 662.7L441.1 662.8L442 663L443 663.1L443.9 663.3L444.9 663.4L445.8 663.5L446.8 663.7L447.7 663.8L448.7 664L449.7 664.1L450.6 664.3L451.6 664.4L452.5 664.6L453.5 664.7L454.4 664.9L455.4 665L456.3 665.2L457.3 665.3L458.3 665.4L459.2 665.6L460.2 665.7L461.1 665.9L462.1 666.1L463 666.2L464 666.4L464.9 666.5L465.9 666.7L466.8 666.8L467.8 667L468.8 667.2L469.7 667.3L470.7 667.5L471.6 667.7L472.6 667.8L473.5 668L474.5 668.2L475.4 668.3L476.4 668.5L477.4 668.7L478.3 668.9L479.3 669.1L480.2 669.3L481.2 669.5L482.1 669.7L483.1 669.9L484 670.1L485 670.3L485.9 670.5L486.9 670.7L487.9 670.9L488.8 671.2L489.8 671.4L490.7 671.6L491.7 671.9L492.6 672.1L493.6 672.4L494.5 672.6L495.5 672.9L496.5 673.1L497.4 673.4L498.4 673.6" fill="none" stroke="#0000ff" stroke-width="1.6" stroke-dasharray="1.5 1.85" stroke-dashoffset="0.75" clip-path="url(#c8)" stroke-linejoin="round"/>
<path d="M346.5 669.4L347.3 669.2L348.1 668.9L349 668.7L349.8 668.4L350.6 668.2L351.4 667.9L352.3 667.7L353.1 667.4L353.9 667.2L354.7 667L355.6 666.7L356.4 666.5L357.2 666.2L358 665.9L358.9 665.7L359.7 665.4L360.5 665.1L361.3 664.9L362.2 664.6L363 664.3L363.8 664.1L364.6 663.8L365.5 663.6L366.3 663.3L367.1 663.1L367.9 662.9L368.8 662.7L369.6 662.5L370.4 662.3L371.2 662.1L372.1 661.9L372.9 661.7L373.7 661.5L374.5 661.3L375.4 661.1L376.2 660.9L377 660.7L377.8 660.5L378.7 660.4L379.5 660.2L380.3 660.1L381.1 659.9L382 659.8L382.8 659.8L383.6 659.7L384.4 659.6L385.3 659.6L386.1 659.5L386.9 659.5L387.7 659.4L388.6 659.4L389.4 659.3L390.2 659.3L391 659.3L391.9 659.3L392.7 659.2L393.5 659.3L394.3 659.3L395.2 659.3L396 659.3L396.8 659.4L397.6 659.4L398.5 659.5L399.3 659.6L400.1 659.6L400.9 659.7L401.8 659.8L402.6 659.9L403.4 660L404.2 660.1L405.1 660.2L405.9 660.3L406.7 660.4L407.5 660.5L408.4 660.6L409.2 660.7L410 660.8L410.8 660.9L411.7 661.1L412.5 661.2L413.3 661.3L414.1 661.4L415 661.5L415.8 661.6L416.6 661.7L417.4 661.8L418.3 661.9L419.1 662L419.9 662.2L420.7 662.3L421.6 662.4L422.4 662.5L423.2 662.7L424 662.8L424.9 662.9L425.7 663.1L426.5 663.2L427.3 663.3L428.2 663.5L429 663.6L429.8 663.8L430.6 663.9L431.5 664.1L432.3 664.2L433.1 664.3L433.9 664.5L434.8 664.6L435.6 664.8L436.4 664.9L437.2 665.1L438.1 665.2L438.9 665.4L439.7 665.5L440.5 665.7L441.4 665.8L442.2 666L443 666.1L443.8 666.2L444.7 666.4L445.5 666.5L446.3 666.7L447.1 666.8L448 666.9L448.8 667.1L449.6 667.2L450.4 667.3L451.3 667.5L452.1 667.6L452.9 667.8L453.7 667.9L454.6 668L455.4 668.2L456.2 668.3L457 668.4L457.9 668.6L458.7 668.7L459.5 668.9L460.3 669L461.2 669.1L462 669.3L462.8 669.4L463.6 669.6L464.5 669.7L465.3 669.8L466.1 670L466.9 670.1L467.8 670.3L468.6 670.4L469.4 670.6L470.2 670.7L471.1 670.8L471.9 671L472.7 671.1L473.5 671.3L474.4 671.4L475.2 671.6L476 671.7L476.8 671.8L477.7 672" fill="none" stroke="#c080ff" stroke-width="1.45" stroke-dasharray="7.6 2.4 1.5 2.5" stroke-dashoffset="0.1" clip-path="url(#c8)" stroke-linejoin="round"/>
<path d="M346.5 669.4L347.2 669.2L347.9 669L348.6 668.8L349.3 668.6L350 668.4L350.8 668.2L351.5 667.9L352.2 667.7L352.9 667.5L353.6 667.3L354.3 667.1L355 666.9L355.7 666.7L356.4 666.4L357.1 666.2L357.8 666L358.6 665.8L359.3 665.5L360 665.3L360.7 665L361.4 664.8L362.1 664.6L362.8 664.3L363.5 664.1L364.2 663.9L364.9 663.7L365.6 663.5L366.4 663.3L367.1 663.1L367.8 662.9L368.5 662.7L369.2 662.6L369.9 662.4L370.6 662.3L371.3 662.1L372 662L372.7 661.8L373.4 661.7L374.2 661.5L374.9 661.4L375.6 661.3L376.3 661.1L377 661L377.7 660.9L378.4 660.8L379.1 660.7L379.8 660.6L380.5 660.5L381.2 660.5L382 660.4L382.7 660.4L383.4 660.4L384.1 660.4L384.8 660.4L385.5 660.5L386.2 660.5L386.9 660.6L387.6 660.7L388.3 660.8L389 660.8L389.8 660.9L390.5 661L391.2 661.1L391.9 661.2L392.6 661.3L393.3 661.4L394 661.6L394.7 661.7L395.4 661.8L396.1 662L396.8 662.1L397.6 662.3L398.3 662.5L399 662.7L399.7 662.8L400.4 663L401.1 663.2L401.8 663.4L402.5 663.6L403.2 663.9L403.9 664.1L404.6 664.3L405.4 664.5L406.1 664.7L406.8 664.9L407.5 665.2L408.2 665.4L408.9 665.6L409.6 665.8L410.3 666.1L411 666.3L411.7 666.5L412.4 666.7L413.2 666.9L413.9 667.1L414.6 667.4L415.3 667.6L416 667.9L416.7 668.1L417.4 668.4L418.1 668.6L418.8 668.9L419.5 669.1L420.2 669.4L421 669.6L421.7 669.8L422.4 670.1L423.1 670.3L423.8 670.5L424.5 670.7L425.2 670.9L425.9 671.1L426.6 671.3L427.3 671.5L428 671.6L428.8 671.8L429.5 671.9L430.2 672.1L430.9 672.2L431.6 672.4L432.3 672.5L433 672.7L433.7 672.8L434.4 672.9L435.1 673L435.8 673.2L436.6 673.3L437.3 673.4L438 673.5L438.7 673.7L439.4 673.8L440.1 673.9L440.8 674L441.5 674.2L442.2 674.3L442.9 674.4L443.6 674.5L444.4 674.7L445.1 674.8L445.8 674.9L446.5 675L447.2 675.1L447.9 675.3L448.6 675.4L449.3 675.5L450 675.6L450.7 675.7L451.4 675.9L452.2 676L452.9 676.1L453.6 676.2L454.3 676.3L455 676.4L455.7 676.5L456.4 676.7L457.1 676.8L457.8 676.9L458.5 677L459.2 677.1" fill="none" stroke="#ff00ff" stroke-width="1.6" stroke-dasharray="2.7 2.4 2.7 7.4" stroke-dashoffset="13.4" clip-path="url(#c8)" stroke-linejoin="round"/>
<path d="M52.32 154.2v-1.6M52.32 4.6v1.6M68.16 154.2v-1.6M68.16 4.6v1.6M76.08 154.2v-1.6M76.08 4.6v1.6M84 154.2v-1.6M84 4.6v1.6M99.84 154.2v-1.6M99.84 4.6v1.6M107.76 154.2v-1.6M107.76 4.6v1.6M115.68 154.2v-1.6M115.68 4.6v1.6M131.52 154.2v-1.6M131.52 4.6v1.6M139.44 154.2v-1.6M139.44 4.6v1.6M147.36 154.2v-1.6M147.36 4.6v1.6M163.2 154.2v-1.6M163.2 4.6v1.6M171.12 154.2v-1.6M171.12 4.6v1.6M179.04 154.2v-1.6M179.04 4.6v1.6M194.88 154.2v-1.6M194.88 4.6v1.6M202.8 154.2v-1.6M202.8 4.6v1.6M210.72 154.2v-1.6M210.72 4.6v1.6M226.56 154.2v-1.6M226.56 4.6v1.6M234.48 154.2v-1.6M234.48 4.6v1.6M242.4 154.2v-1.6M242.4 4.6v1.6M258.24 154.2v-1.6M258.24 4.6v1.6M266.16 154.2v-1.6M266.16 4.6v1.6M274.08 154.2v-1.6M274.08 4.6v1.6M44.4 146.72h1.6M282 146.72h-1.6M44.4 139.24h1.6M282 139.24h-1.6M44.4 131.76h1.6M282 131.76h-1.6M44.4 124.28h1.6M282 124.28h-1.6M44.4 109.32h1.6M282 109.32h-1.6M44.4 101.84h1.6M282 101.84h-1.6M44.4 94.36h1.6M282 94.36h-1.6M44.4 86.88h1.6M282 86.88h-1.6M44.4 71.92h1.6M282 71.92h-1.6M44.4 64.44h1.6M282 64.44h-1.6M44.4 56.96h1.6M282 56.96h-1.6M44.4 49.48h1.6M282 49.48h-1.6M44.4 34.52h1.6M282 34.52h-1.6M44.4 27.04h1.6M282 27.04h-1.6M44.4 19.56h1.6M282 19.56h-1.6M44.4 12.08h1.6M282 12.08h-1.6M60.24 154.2v-2.9M60.24 4.6v2.9M91.92 154.2v-2.9M91.92 4.6v2.9M123.6 154.2v-2.9M123.6 4.6v2.9M155.28 154.2v-2.9M155.28 4.6v2.9M186.96 154.2v-2.9M186.96 4.6v2.9M218.64 154.2v-2.9M218.64 4.6v2.9M250.32 154.2v-2.9M250.32 4.6v2.9M44.4 116.8h2.9M282 116.8h-2.9M44.4 79.4h2.9M282 79.4h-2.9M44.4 42h2.9M282 42h-2.9" stroke="#111" stroke-width="0.75" fill="none"/>
<rect x="44.4" y="4.6" width="237.6" height="149.6" fill="none" stroke="#2a2a2a" stroke-width="0.85"/>
<text x="61.24" y="171" text-anchor="middle">2.6</text>
<text x="92.92" y="171" text-anchor="middle">2.8</text>
<text x="124.6" y="171" text-anchor="middle">3</text>
<text x="156.28" y="171" text-anchor="middle">3.2</text>
<text x="187.96" y="171" text-anchor="middle">3.4</text>
<text x="219.64" y="171" text-anchor="middle">3.6</text>
<text x="251.32" y="171" text-anchor="middle">3.8</text>
<text x="283" y="171" text-anchor="middle">4</text>
<text x="36.1" y="158.75" text-anchor="end">0</text>
<text x="36.1" y="121.35" text-anchor="end">5</text>
<text x="36.1" y="83.95" text-anchor="end">10</text>
<text x="36.1" y="46.55" text-anchor="end">15</text>
<text x="36.1" y="9.15" text-anchor="end">20</text>
<path d="M346.92 154.2v-1.6M346.92 4.6v1.6M362.76 154.2v-1.6M362.76 4.6v1.6M370.68 154.2v-1.6M370.68 4.6v1.6M378.6 154.2v-1.6M378.6 4.6v1.6M394.44 154.2v-1.6M394.44 4.6v1.6M402.36 154.2v-1.6M402.36 4.6v1.6M410.28 154.2v-1.6M410.28 4.6v1.6M426.12 154.2v-1.6M426.12 4.6v1.6M434.04 154.2v-1.6M434.04 4.6v1.6M441.96 154.2v-1.6M441.96 4.6v1.6M457.8 154.2v-1.6M457.8 4.6v1.6M465.72 154.2v-1.6M465.72 4.6v1.6M473.64 154.2v-1.6M473.64 4.6v1.6M489.48 154.2v-1.6M489.48 4.6v1.6M497.4 154.2v-1.6M497.4 4.6v1.6M505.32 154.2v-1.6M505.32 4.6v1.6M521.16 154.2v-1.6M521.16 4.6v1.6M529.08 154.2v-1.6M529.08 4.6v1.6M537 154.2v-1.6M537 4.6v1.6M552.84 154.2v-1.6M552.84 4.6v1.6M560.76 154.2v-1.6M560.76 4.6v1.6M568.68 154.2v-1.6M568.68 4.6v1.6M339 148.22h1.6M576.6 148.22h-1.6M339 142.23h1.6M576.6 142.23h-1.6M339 136.25h1.6M576.6 136.25h-1.6M339 130.26h1.6M576.6 130.26h-1.6M339 118.3h1.6M576.6 118.3h-1.6M339 112.31h1.6M576.6 112.31h-1.6M339 106.33h1.6M576.6 106.33h-1.6M339 100.34h1.6M576.6 100.34h-1.6M339 88.38h1.6M576.6 88.38h-1.6M339 82.39h1.6M576.6 82.39h-1.6M339 76.41h1.6M576.6 76.41h-1.6M339 70.42h1.6M576.6 70.42h-1.6M339 58.46h1.6M576.6 58.46h-1.6M339 52.47h1.6M576.6 52.47h-1.6M339 46.49h1.6M576.6 46.49h-1.6M339 40.5h1.6M576.6 40.5h-1.6M339 28.54h1.6M576.6 28.54h-1.6M339 22.55h1.6M576.6 22.55h-1.6M339 16.57h1.6M576.6 16.57h-1.6M339 10.58h1.6M576.6 10.58h-1.6M354.84 154.2v-2.9M354.84 4.6v2.9M386.52 154.2v-2.9M386.52 4.6v2.9M418.2 154.2v-2.9M418.2 4.6v2.9M449.88 154.2v-2.9M449.88 4.6v2.9M481.56 154.2v-2.9M481.56 4.6v2.9M513.24 154.2v-2.9M513.24 4.6v2.9M544.92 154.2v-2.9M544.92 4.6v2.9M339 124.28h2.9M576.6 124.28h-2.9M339 94.36h2.9M576.6 94.36h-2.9M339 64.44h2.9M576.6 64.44h-2.9M339 34.52h2.9M576.6 34.52h-2.9" stroke="#111" stroke-width="0.75" fill="none"/>
<rect x="339" y="4.6" width="237.6" height="149.6" fill="none" stroke="#2a2a2a" stroke-width="0.85"/>
<text x="355.84" y="171" text-anchor="middle">2.6</text>
<text x="387.52" y="171" text-anchor="middle">2.8</text>
<text x="419.2" y="171" text-anchor="middle">3</text>
<text x="450.88" y="171" text-anchor="middle">3.2</text>
<text x="482.56" y="171" text-anchor="middle">3.4</text>
<text x="514.24" y="171" text-anchor="middle">3.6</text>
<text x="545.92" y="171" text-anchor="middle">3.8</text>
<text x="577.6" y="171" text-anchor="middle">4</text>
<text x="330.7" y="158.75" text-anchor="end">0</text>
<text x="330.7" y="128.83" text-anchor="end">5</text>
<text x="330.7" y="98.91" text-anchor="end">10</text>
<text x="330.7" y="68.99" text-anchor="end">15</text>
<text x="330.7" y="39.07" text-anchor="end">20</text>
<text x="330.7" y="9.15" text-anchor="end">25</text>
<path d="M75 372.8v-1.6M75 211.2v1.6M98 372.8v-1.6M98 211.2v1.6M121 372.8v-1.6M121 211.2v1.6M167 372.8v-1.6M167 211.2v1.6M190 372.8v-1.6M190 211.2v1.6M213 372.8v-1.6M213 211.2v1.6M259 372.8v-1.6M259 211.2v1.6M52 367.03h1.6M282 367.03h-1.6M52 361.26h1.6M282 361.26h-1.6M52 355.49h1.6M282 355.49h-1.6M52 343.94h1.6M282 343.94h-1.6M52 338.17h1.6M282 338.17h-1.6M52 332.4h1.6M282 332.4h-1.6M52 320.86h1.6M282 320.86h-1.6M52 315.09h1.6M282 315.09h-1.6M52 309.31h1.6M282 309.31h-1.6M52 297.77h1.6M282 297.77h-1.6M52 292h1.6M282 292h-1.6M52 286.23h1.6M282 286.23h-1.6M52 274.69h1.6M282 274.69h-1.6M52 268.91h1.6M282 268.91h-1.6M52 263.14h1.6M282 263.14h-1.6M52 251.6h1.6M282 251.6h-1.6M52 245.83h1.6M282 245.83h-1.6M52 240.06h1.6M282 240.06h-1.6M52 228.51h1.6M282 228.51h-1.6M52 222.74h1.6M282 222.74h-1.6M52 216.97h1.6M282 216.97h-1.6M144 372.8v-2.9M144 211.2v2.9M236 372.8v-2.9M236 211.2v2.9M52 349.71h2.9M282 349.71h-2.9M52 326.63h2.9M282 326.63h-2.9M52 303.54h2.9M282 303.54h-2.9M52 280.46h2.9M282 280.46h-2.9M52 257.37h2.9M282 257.37h-2.9M52 234.29h2.9M282 234.29h-2.9" stroke="#111" stroke-width="0.75" fill="none"/>
<rect x="52" y="211.2" width="230" height="161.6" fill="none" stroke="#2a2a2a" stroke-width="0.85"/>
<text x="53" y="389.6" text-anchor="middle">0</text>
<text x="145" y="389.6" text-anchor="middle">0.2</text>
<text x="237" y="389.6" text-anchor="middle">0.4</text>
<text x="43.7" y="377.35" text-anchor="end">0.5</text>
<text x="43.7" y="354.26" text-anchor="end">0.6</text>
<text x="43.7" y="331.18" text-anchor="end">0.7</text>
<text x="43.7" y="308.09" text-anchor="end">0.8</text>
<text x="43.7" y="285.01" text-anchor="end">0.9</text>
<text x="43.7" y="261.92" text-anchor="end">1</text>
<text x="43.7" y="238.84" text-anchor="end">1.1</text>
<text x="43.7" y="215.75" text-anchor="end">1.2</text>
<path d="M369.51 372.8v-1.6M369.51 211.2v1.6M392.52 372.8v-1.6M392.52 211.2v1.6M415.53 372.8v-1.6M415.53 211.2v1.6M461.55 372.8v-1.6M461.55 211.2v1.6M484.56 372.8v-1.6M484.56 211.2v1.6M507.57 372.8v-1.6M507.57 211.2v1.6M553.59 372.8v-1.6M553.59 211.2v1.6M346.5 367.03h1.6M576.6 367.03h-1.6M346.5 361.26h1.6M576.6 361.26h-1.6M346.5 355.49h1.6M576.6 355.49h-1.6M346.5 343.94h1.6M576.6 343.94h-1.6M346.5 338.17h1.6M576.6 338.17h-1.6M346.5 332.4h1.6M576.6 332.4h-1.6M346.5 320.86h1.6M576.6 320.86h-1.6M346.5 315.09h1.6M576.6 315.09h-1.6M346.5 309.31h1.6M576.6 309.31h-1.6M346.5 297.77h1.6M576.6 297.77h-1.6M346.5 292h1.6M576.6 292h-1.6M346.5 286.23h1.6M576.6 286.23h-1.6M346.5 274.69h1.6M576.6 274.69h-1.6M346.5 268.91h1.6M576.6 268.91h-1.6M346.5 263.14h1.6M576.6 263.14h-1.6M346.5 251.6h1.6M576.6 251.6h-1.6M346.5 245.83h1.6M576.6 245.83h-1.6M346.5 240.06h1.6M576.6 240.06h-1.6M346.5 228.51h1.6M576.6 228.51h-1.6M346.5 222.74h1.6M576.6 222.74h-1.6M346.5 216.97h1.6M576.6 216.97h-1.6M438.54 372.8v-2.9M438.54 211.2v2.9M530.58 372.8v-2.9M530.58 211.2v2.9M346.5 349.71h2.9M576.6 349.71h-2.9M346.5 326.63h2.9M576.6 326.63h-2.9M346.5 303.54h2.9M576.6 303.54h-2.9M346.5 280.46h2.9M576.6 280.46h-2.9M346.5 257.37h2.9M576.6 257.37h-2.9M346.5 234.29h2.9M576.6 234.29h-2.9" stroke="#111" stroke-width="0.75" fill="none"/>
<rect x="346.5" y="211.2" width="230.1" height="161.6" fill="none" stroke="#2a2a2a" stroke-width="0.85"/>
<text x="347.5" y="389.6" text-anchor="middle">0</text>
<text x="439.54" y="389.6" text-anchor="middle">0.2</text>
<text x="531.58" y="389.6" text-anchor="middle">0.4</text>
<text x="338.2" y="377.35" text-anchor="end">0.5</text>
<text x="338.2" y="354.26" text-anchor="end">0.6</text>
<text x="338.2" y="331.18" text-anchor="end">0.7</text>
<text x="338.2" y="308.09" text-anchor="end">0.8</text>
<text x="338.2" y="285.01" text-anchor="end">0.9</text>
<text x="338.2" y="261.92" text-anchor="end">1</text>
<text x="338.2" y="238.84" text-anchor="end">1.1</text>
<text x="338.2" y="215.75" text-anchor="end">1.2</text>
<path d="M52.32 566v-1.6M52.32 417.2v1.6M68.16 566v-1.6M68.16 417.2v1.6M76.08 566v-1.6M76.08 417.2v1.6M84 566v-1.6M84 417.2v1.6M99.84 566v-1.6M99.84 417.2v1.6M107.76 566v-1.6M107.76 417.2v1.6M115.68 566v-1.6M115.68 417.2v1.6M131.52 566v-1.6M131.52 417.2v1.6M139.44 566v-1.6M139.44 417.2v1.6M147.36 566v-1.6M147.36 417.2v1.6M163.2 566v-1.6M163.2 417.2v1.6M171.12 566v-1.6M171.12 417.2v1.6M179.04 566v-1.6M179.04 417.2v1.6M194.88 566v-1.6M194.88 417.2v1.6M202.8 566v-1.6M202.8 417.2v1.6M210.72 566v-1.6M210.72 417.2v1.6M226.56 566v-1.6M226.56 417.2v1.6M234.48 566v-1.6M234.48 417.2v1.6M242.4 566v-1.6M242.4 417.2v1.6M258.24 566v-1.6M258.24 417.2v1.6M266.16 566v-1.6M266.16 417.2v1.6M274.08 566v-1.6M274.08 417.2v1.6M44.4 551.12h1.6M282 551.12h-1.6M44.4 536.24h1.6M282 536.24h-1.6M44.4 521.36h1.6M282 521.36h-1.6M44.4 506.48h1.6M282 506.48h-1.6M44.4 476.72h1.6M282 476.72h-1.6M44.4 461.84h1.6M282 461.84h-1.6M44.4 446.96h1.6M282 446.96h-1.6M44.4 432.08h1.6M282 432.08h-1.6M60.24 566v-2.9M60.24 417.2v2.9M91.92 566v-2.9M91.92 417.2v2.9M123.6 566v-2.9M123.6 417.2v2.9M155.28 566v-2.9M155.28 417.2v2.9M186.96 566v-2.9M186.96 417.2v2.9M218.64 566v-2.9M218.64 417.2v2.9M250.32 566v-2.9M250.32 417.2v2.9M44.4 491.6h2.9M282 491.6h-2.9" stroke="#111" stroke-width="0.75" fill="none"/>
<rect x="44.4" y="417.2" width="237.6" height="148.8" fill="none" stroke="#2a2a2a" stroke-width="0.85"/>
<text x="61.24" y="582.8" text-anchor="middle">2.6</text>
<text x="92.92" y="582.8" text-anchor="middle">2.8</text>
<text x="124.6" y="582.8" text-anchor="middle">3</text>
<text x="156.28" y="582.8" text-anchor="middle">3.2</text>
<text x="187.96" y="582.8" text-anchor="middle">3.4</text>
<text x="219.64" y="582.8" text-anchor="middle">3.6</text>
<text x="251.32" y="582.8" text-anchor="middle">3.8</text>
<text x="283" y="582.8" text-anchor="middle">4</text>
<text x="36.1" y="570.55" text-anchor="end">0</text>
<text x="36.1" y="496.15" text-anchor="end">5</text>
<text x="36.1" y="421.75" text-anchor="end">10</text>
<path d="M346.92 566v-1.6M346.92 417.2v1.6M362.76 566v-1.6M362.76 417.2v1.6M370.68 566v-1.6M370.68 417.2v1.6M378.6 566v-1.6M378.6 417.2v1.6M394.44 566v-1.6M394.44 417.2v1.6M402.36 566v-1.6M402.36 417.2v1.6M410.28 566v-1.6M410.28 417.2v1.6M426.12 566v-1.6M426.12 417.2v1.6M434.04 566v-1.6M434.04 417.2v1.6M441.96 566v-1.6M441.96 417.2v1.6M457.8 566v-1.6M457.8 417.2v1.6M465.72 566v-1.6M465.72 417.2v1.6M473.64 566v-1.6M473.64 417.2v1.6M489.48 566v-1.6M489.48 417.2v1.6M497.4 566v-1.6M497.4 417.2v1.6M505.32 566v-1.6M505.32 417.2v1.6M521.16 566v-1.6M521.16 417.2v1.6M529.08 566v-1.6M529.08 417.2v1.6M537 566v-1.6M537 417.2v1.6M552.84 566v-1.6M552.84 417.2v1.6M560.76 566v-1.6M560.76 417.2v1.6M568.68 566v-1.6M568.68 417.2v1.6M339 556.08h1.6M576.6 556.08h-1.6M339 546.16h1.6M576.6 546.16h-1.6M339 536.24h1.6M576.6 536.24h-1.6M339 526.32h1.6M576.6 526.32h-1.6M339 506.48h1.6M576.6 506.48h-1.6M339 496.56h1.6M576.6 496.56h-1.6M339 486.64h1.6M576.6 486.64h-1.6M339 476.72h1.6M576.6 476.72h-1.6M339 456.88h1.6M576.6 456.88h-1.6M339 446.96h1.6M576.6 446.96h-1.6M339 437.04h1.6M576.6 437.04h-1.6M339 427.12h1.6M576.6 427.12h-1.6M354.84 566v-2.9M354.84 417.2v2.9M386.52 566v-2.9M386.52 417.2v2.9M418.2 566v-2.9M418.2 417.2v2.9M449.88 566v-2.9M449.88 417.2v2.9M481.56 566v-2.9M481.56 417.2v2.9M513.24 566v-2.9M513.24 417.2v2.9M544.92 566v-2.9M544.92 417.2v2.9M339 516.4h2.9M576.6 516.4h-2.9M339 466.8h2.9M576.6 466.8h-2.9" stroke="#111" stroke-width="0.75" fill="none"/>
<rect x="339" y="417.2" width="237.6" height="148.8" fill="none" stroke="#2a2a2a" stroke-width="0.85"/>
<text x="355.84" y="582.8" text-anchor="middle">2.6</text>
<text x="387.52" y="582.8" text-anchor="middle">2.8</text>
<text x="419.2" y="582.8" text-anchor="middle">3</text>
<text x="450.88" y="582.8" text-anchor="middle">3.2</text>
<text x="482.56" y="582.8" text-anchor="middle">3.4</text>
<text x="514.24" y="582.8" text-anchor="middle">3.6</text>
<text x="545.92" y="582.8" text-anchor="middle">3.8</text>
<text x="577.6" y="582.8" text-anchor="middle">4</text>
<text x="330.7" y="570.55" text-anchor="end">0</text>
<text x="330.7" y="520.95" text-anchor="end">5</text>
<text x="330.7" y="471.35" text-anchor="end">10</text>
<text x="330.7" y="421.75" text-anchor="end">15</text>
<path d="M75 785.3v-1.6M75 623.1v1.6M98 785.3v-1.6M98 623.1v1.6M121 785.3v-1.6M121 623.1v1.6M167 785.3v-1.6M167 623.1v1.6M190 785.3v-1.6M190 623.1v1.6M213 785.3v-1.6M213 623.1v1.6M259 785.3v-1.6M259 623.1v1.6M52 779.51h1.6M282 779.51h-1.6M52 773.71h1.6M282 773.71h-1.6M52 767.92h1.6M282 767.92h-1.6M52 756.34h1.6M282 756.34h-1.6M52 750.54h1.6M282 750.54h-1.6M52 744.75h1.6M282 744.75h-1.6M52 733.16h1.6M282 733.16h-1.6M52 727.37h1.6M282 727.37h-1.6M52 721.58h1.6M282 721.58h-1.6M52 709.99h1.6M282 709.99h-1.6M52 704.2h1.6M282 704.2h-1.6M52 698.41h1.6M282 698.41h-1.6M52 686.82h1.6M282 686.82h-1.6M52 681.03h1.6M282 681.03h-1.6M52 675.24h1.6M282 675.24h-1.6M52 663.65h1.6M282 663.65h-1.6M52 657.86h1.6M282 657.86h-1.6M52 652.06h1.6M282 652.06h-1.6M52 640.48h1.6M282 640.48h-1.6M52 634.69h1.6M282 634.69h-1.6M52 628.89h1.6M282 628.89h-1.6M144 785.3v-2.9M144 623.1v2.9M236 785.3v-2.9M236 623.1v2.9M52 762.13h2.9M282 762.13h-2.9M52 738.96h2.9M282 738.96h-2.9M52 715.79h2.9M282 715.79h-2.9M52 692.61h2.9M282 692.61h-2.9M52 669.44h2.9M282 669.44h-2.9M52 646.27h2.9M282 646.27h-2.9" stroke="#111" stroke-width="0.75" fill="none"/>
<rect x="52" y="623.1" width="230" height="162.2" fill="none" stroke="#2a2a2a" stroke-width="0.85"/>
<text x="53" y="802.1" text-anchor="middle">0</text>
<text x="145" y="802.1" text-anchor="middle">0.2</text>
<text x="237" y="802.1" text-anchor="middle">0.4</text>
<text x="43.7" y="789.85" text-anchor="end">0.5</text>
<text x="43.7" y="766.68" text-anchor="end">0.6</text>
<text x="43.7" y="743.51" text-anchor="end">0.7</text>
<text x="43.7" y="720.34" text-anchor="end">0.8</text>
<text x="43.7" y="697.16" text-anchor="end">0.9</text>
<text x="43.7" y="673.99" text-anchor="end">1</text>
<text x="43.7" y="650.82" text-anchor="end">1.1</text>
<text x="43.7" y="627.65" text-anchor="end">1.2</text>
<path d="M369.51 785.3v-1.6M369.51 623.1v1.6M392.52 785.3v-1.6M392.52 623.1v1.6M415.53 785.3v-1.6M415.53 623.1v1.6M461.55 785.3v-1.6M461.55 623.1v1.6M484.56 785.3v-1.6M484.56 623.1v1.6M507.57 785.3v-1.6M507.57 623.1v1.6M553.59 785.3v-1.6M553.59 623.1v1.6M346.5 779.51h1.6M576.6 779.51h-1.6M346.5 773.71h1.6M576.6 773.71h-1.6M346.5 767.92h1.6M576.6 767.92h-1.6M346.5 756.34h1.6M576.6 756.34h-1.6M346.5 750.54h1.6M576.6 750.54h-1.6M346.5 744.75h1.6M576.6 744.75h-1.6M346.5 733.16h1.6M576.6 733.16h-1.6M346.5 727.37h1.6M576.6 727.37h-1.6M346.5 721.58h1.6M576.6 721.58h-1.6M346.5 709.99h1.6M576.6 709.99h-1.6M346.5 704.2h1.6M576.6 704.2h-1.6M346.5 698.41h1.6M576.6 698.41h-1.6M346.5 686.82h1.6M576.6 686.82h-1.6M346.5 681.03h1.6M576.6 681.03h-1.6M346.5 675.24h1.6M576.6 675.24h-1.6M346.5 663.65h1.6M576.6 663.65h-1.6M346.5 657.86h1.6M576.6 657.86h-1.6M346.5 652.06h1.6M576.6 652.06h-1.6M346.5 640.48h1.6M576.6 640.48h-1.6M346.5 634.69h1.6M576.6 634.69h-1.6M346.5 628.89h1.6M576.6 628.89h-1.6M438.54 785.3v-2.9M438.54 623.1v2.9M530.58 785.3v-2.9M530.58 623.1v2.9M346.5 762.13h2.9M576.6 762.13h-2.9M346.5 738.96h2.9M576.6 738.96h-2.9M346.5 715.79h2.9M576.6 715.79h-2.9M346.5 692.61h2.9M576.6 692.61h-2.9M346.5 669.44h2.9M576.6 669.44h-2.9M346.5 646.27h2.9M576.6 646.27h-2.9" stroke="#111" stroke-width="0.75" fill="none"/>
<rect x="346.5" y="623.1" width="230.1" height="162.2" fill="none" stroke="#2a2a2a" stroke-width="0.85"/>
<text x="347.5" y="802.1" text-anchor="middle">0</text>
<text x="439.54" y="802.1" text-anchor="middle">0.2</text>
<text x="531.58" y="802.1" text-anchor="middle">0.4</text>
<text x="338.2" y="789.85" text-anchor="end">0.5</text>
<text x="338.2" y="766.68" text-anchor="end">0.6</text>
<text x="338.2" y="743.51" text-anchor="end">0.7</text>
<text x="338.2" y="720.34" text-anchor="end">0.8</text>
<text x="338.2" y="697.16" text-anchor="end">0.9</text>
<text x="338.2" y="673.99" text-anchor="end">1</text>
<text x="338.2" y="650.82" text-anchor="end">1.1</text>
<text x="338.2" y="627.65" text-anchor="end">1.2</text>
<text x="135.4" y="188.2">E<tspan class="sub" dy="3.6">cm</tspan><tspan dy="-3.6"> [GeV]</tspan></text>
<text x="430" y="188.2">E<tspan class="sub" dy="3.6">cm</tspan><tspan dy="-3.6"> [GeV]</tspan></text>
<text x="152.4" y="408.6"><tspan style="font-family:'Liberation Serif', serif;font-size:14.5px">τ</tspan><tspan x="161.3">[fm]</tspan></text>
<text x="446.95" y="408.6"><tspan style="font-family:'Liberation Serif', serif;font-size:14.5px">τ</tspan><tspan x="455.85">[fm]</tspan></text>
<text x="135.4" y="600">E<tspan class="sub" dy="3.6">cm</tspan><tspan dy="-3.6"> [GeV]</tspan></text>
<text x="430" y="600">E<tspan class="sub" dy="3.6">cm</tspan><tspan dy="-3.6"> [GeV]</tspan></text>
<text x="152.4" y="821.1"><tspan style="font-family:'Liberation Serif', serif;font-size:14.5px">τ</tspan><tspan x="161.3">[fm]</tspan></text>
<text x="446.95" y="821.1"><tspan style="font-family:'Liberation Serif', serif;font-size:14.5px">τ</tspan><tspan x="455.85">[fm]</tspan></text>
<text transform="translate(14.4 79.4) rotate(-90)" x="-23.7" y="0"><tspan class="sg">σ</tspan><tspan x="-13.5">[GeV</tspan><tspan class="sup" dy="-6.9">2</tspan><tspan dy="6.9">]</tspan></text>
<text transform="translate(309.3 79.4) rotate(-90)" x="-23.7" y="0"><tspan class="sg">σ</tspan><tspan x="-13.5">[GeV</tspan><tspan class="sup" dy="-6.9">2</tspan><tspan dy="6.9">]</tspan></text>
<text transform="translate(10.8 292) rotate(-90)" x="-11.3" y="0">R<tspan class="sub" dy="3.5">ps.</tspan></text>
<text transform="translate(305.3 292) rotate(-90)" x="-11.3" y="0">R<tspan class="sub" dy="3.5">ps.</tspan></text>
<text transform="translate(14.4 491.6) rotate(-90)" x="-23.7" y="0"><tspan class="sg">σ</tspan><tspan x="-13.5">[GeV</tspan><tspan class="sup" dy="-6.9">2</tspan><tspan dy="6.9">]</tspan></text>
<text transform="translate(309.3 491.6) rotate(-90)" x="-23.7" y="0"><tspan class="sg">σ</tspan><tspan x="-13.5">[GeV</tspan><tspan class="sup" dy="-6.9">2</tspan><tspan dy="6.9">]</tspan></text>
<text transform="translate(10.8 704.2) rotate(-90)" x="-11.3" y="0">R<tspan class="sub" dy="3.5">ps.</tspan></text>
<text transform="translate(305.3 704.2) rotate(-90)" x="-11.3" y="0">R<tspan class="sub" dy="3.5">ps.</tspan></text>
<text x="59.8" y="30.1">J/<tspan class="ps" x="69.1">Ψ</tspan><tspan x="78.8">,</tspan><tspan class="gr" x="90">η</tspan><tspan class="sub" x="97.4" dy="3.7">c</tspan></text>
<text x="203" y="31.2" textLength="57.6">Potential 1</text>
<text x="203" y="46.3" textLength="72.3">BbS-Scheme</text>
<text x="354.7" y="31.2">J/<tspan class="ps" x="364">Ψ</tspan><tspan x="373.7">,</tspan><tspan class="gr" x="384.9">η</tspan><tspan class="sub" x="392.3" dy="3.7">c</tspan></text>
<text x="497.6" y="32.6" textLength="58">Potential 2</text>
<text x="497.6" y="46.3" textLength="72.3">BbS-Scheme</text>
<text x="143.9" y="226.2" textLength="57.6">Potential 1</text>
<text x="143.9" y="241.8" textLength="72.3">BbS-Scheme</text>
<text x="438.3" y="226.2" textLength="58">Potential 2</text>
<text x="438.3" y="241.8" textLength="72.3">BbS-Scheme</text>
<text x="59.8" y="449.9">J/<tspan class="ps" x="69.1">Ψ</tspan><tspan x="78.8">,</tspan><tspan class="gr" x="90">η</tspan><tspan class="sub" x="97.4" dy="3.7">c</tspan></text>
<text x="203" y="450.6" textLength="57.6">Potential 1</text>
<text x="203" y="465.6" textLength="63.1">Th-Scheme</text>
<text x="354.7" y="489.2">J/<tspan class="ps" x="364">Ψ</tspan><tspan x="373.7">,</tspan><tspan class="gr" x="384.9">η</tspan><tspan class="sub" x="392.3" dy="3.7">c</tspan></text>
<text x="497.6" y="451" textLength="58">Potential 2</text>
<text x="497.6" y="465.8" textLength="63.1">Th-Scheme</text>
<text x="143.9" y="638.5" textLength="57.6">Potential 1</text>
<text x="143.9" y="655" textLength="63.1">Th-Scheme</text>
<text x="438.3" y="638.5" textLength="58">Potential 2</text>
<text x="438.3" y="655" textLength="63.1">Th-Scheme</text>
<text x="116" y="840.2">T=0 T<tspan class="sub" dy="4.1">c</tspan></text>
<path d="M173.6 837.6H208.4" stroke="#000000" stroke-width="1.45" fill="none"/>
<text x="116" y="858.1">T=1.5 T<tspan class="sub" dy="4.1">c</tspan></text>
<path d="M173.6 855.1H208.4" stroke="#0000ff" stroke-width="1.6" stroke-dasharray="1.5 1.85" fill="none"/>
<text x="254.1" y="840.2">T=1.2 T<tspan class="sub" dy="4.1">c</tspan></text>
<path d="M311.9 837.6H346.7" stroke="#ff0000" stroke-width="1.55" stroke-dasharray="5.5 2.2" fill="none"/>
<text x="254.1" y="858.1">T=1.75 T<tspan class="sub" dy="4.1">c</tspan></text>
<path d="M311.9 855.1H346.7" stroke="#c080ff" stroke-width="1.45" stroke-dasharray="7.6 2.4 1.5 2.5" fill="none"/>
<text x="391.9" y="840.2">T=1.35 T<tspan class="sub" dy="4.1">c</tspan></text>
<path d="M449.9 837.6H484.7" stroke="#008000" stroke-width="1.5" stroke-dasharray="3.0 3.4" fill="none"/>
<text x="391.9" y="858.1">T=2 T<tspan class="sub" dy="4.1">c</tspan></text>
<path d="M449.9 855.1H484.7" stroke="#ff00ff" stroke-width="1.6" stroke-dasharray="2.7 2.4 2.7 7.4" fill="none"/>
</svg></div></body></html>
